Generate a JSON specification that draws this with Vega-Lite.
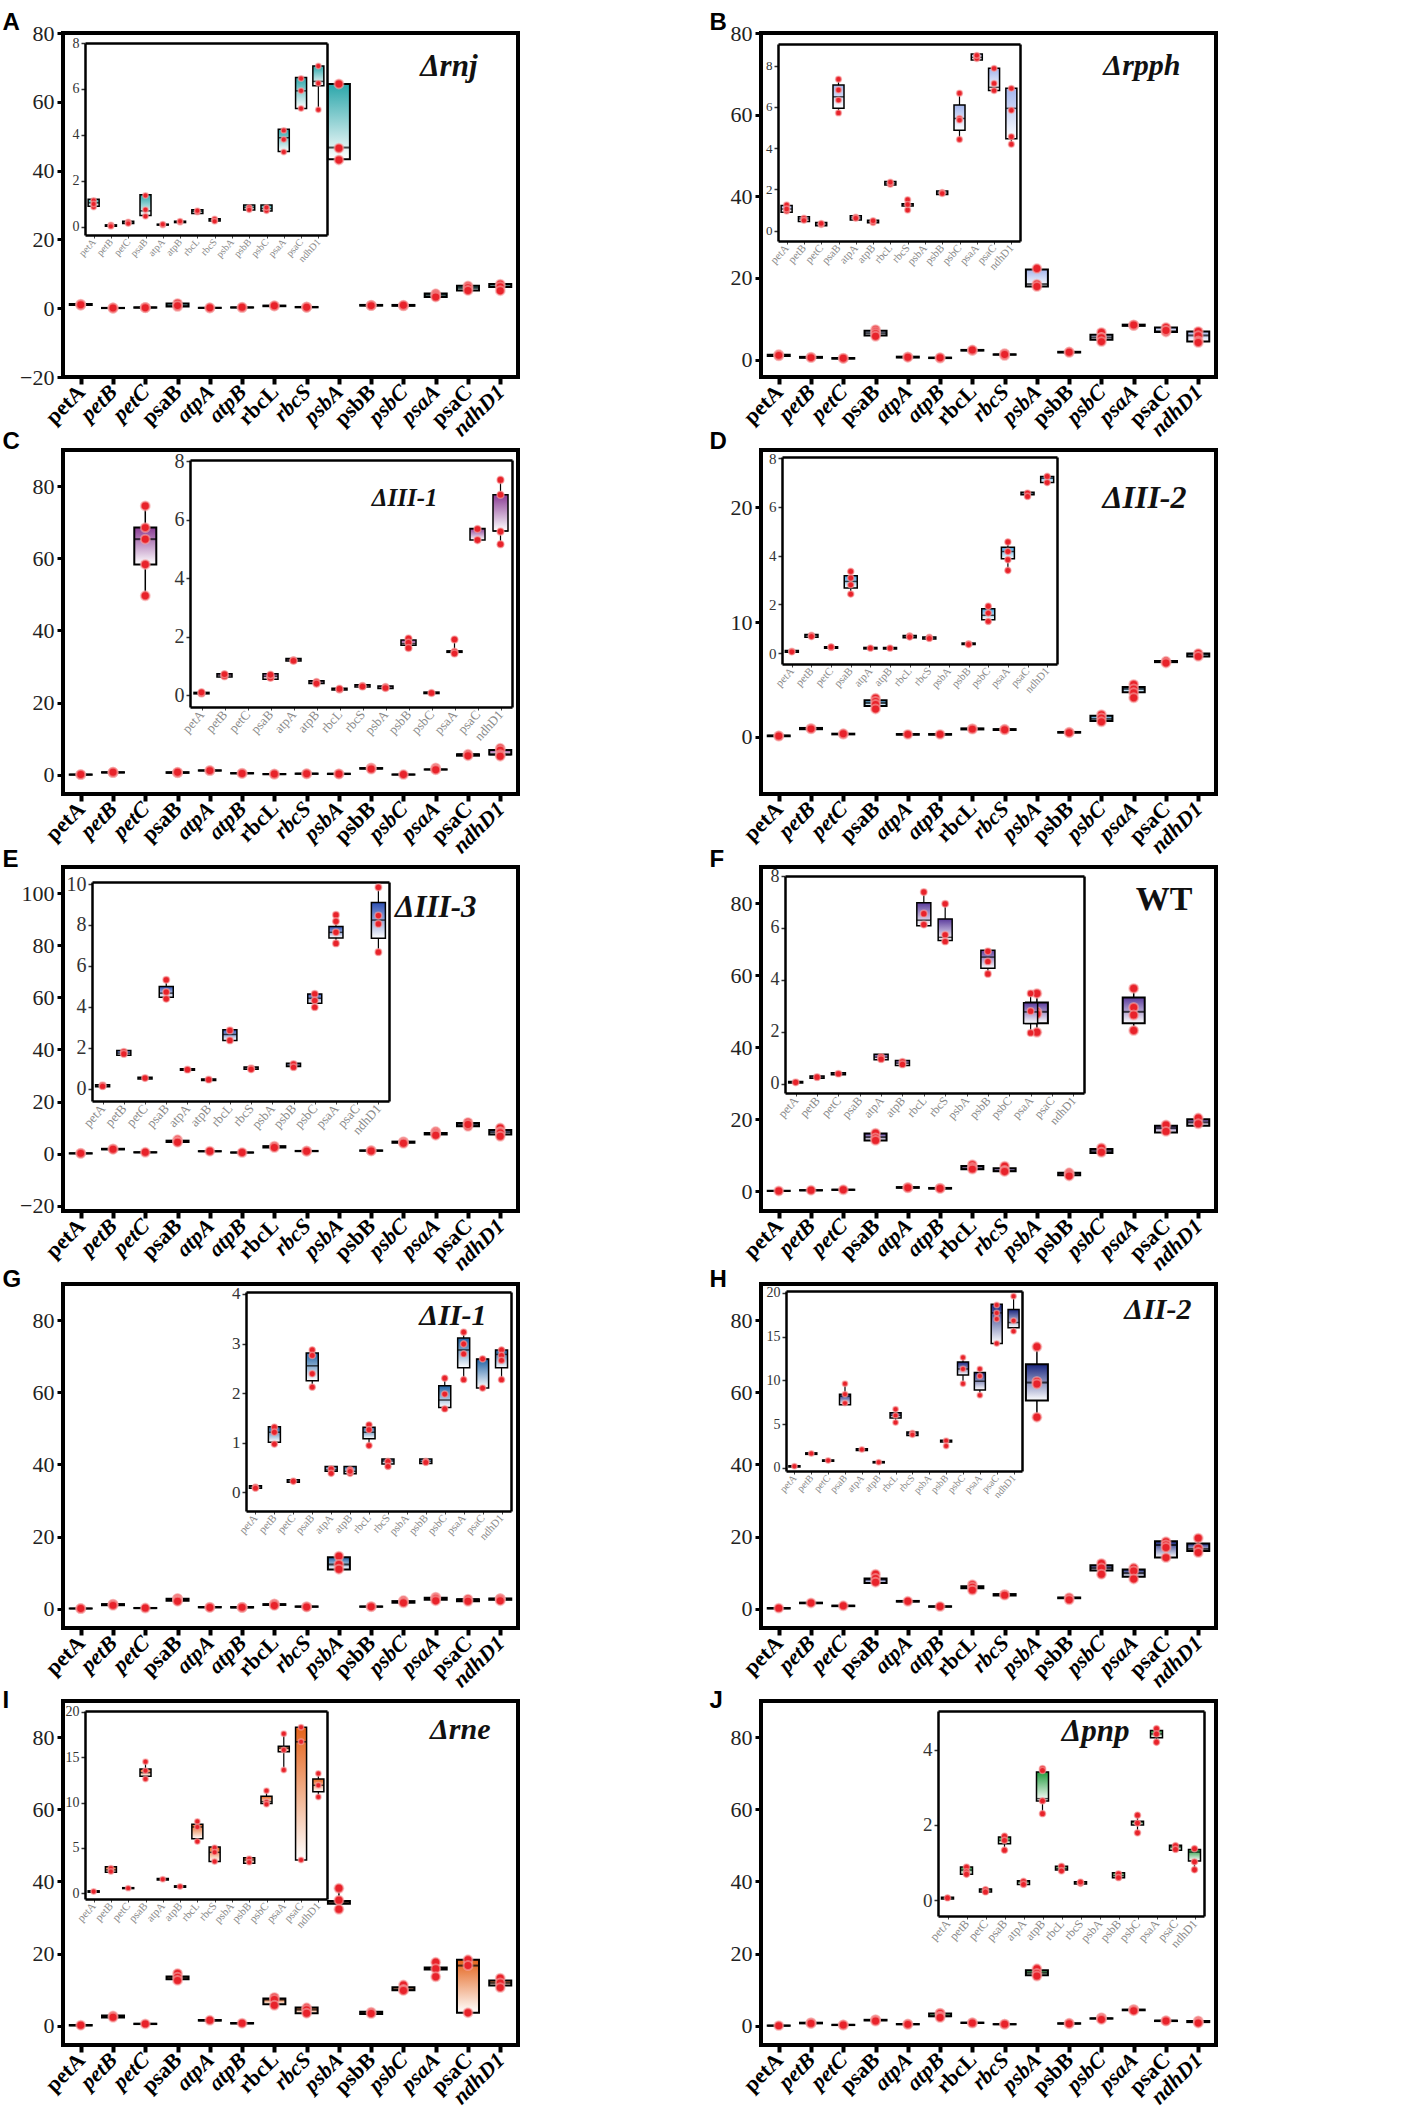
{
"$schema":"https://vega.github.io/schema/vega-lite/v6.json",
"background":"white",
"padding":{"left":0,"top":8,"right":0,"bottom":0},
"bounds":"flush",
"columns":2,
"spacing":{"row":73,"column":243},
"config":{
 "view":{"stroke":"black","strokeWidth":4},
 "axis":{"grid":false},
 "style":{
  "mx":{"domain":false,"tickSize":7,"tickWidth":4,"tickColor":"black","labelAngle":-45,"labelAlign":"right","labelBaseline":"middle","labelFont":"Liberation Serif","labelFontSize":22,"labelFontWeight":"bold","labelColor":"black","labelPadding":4},
  "my":{"domain":false,"tickSize":6,"tickWidth":3,"tickColor":"black","labelFont":"Liberation Serif","labelFontSize":22,"labelColor":"#222","labelPadding":3,"titleAngle":0,"titleAlign":"left","titleBaseline":"top","titleFont":"Liberation Sans","titleFontSize":24,"titleFontWeight":"bold","titleColor":"black"},
  "ix":{"domainColor":"black","domainWidth":2.5,"tickSize":3,"tickColor":"#444","tickWidth":1,"labelAngle":-48,"labelAlign":"right","labelBaseline":"middle","labelFont":"Liberation Serif","labelColor":"#8a8a8a","labelPadding":2},
  "iy":{"domainColor":"black","domainWidth":2.5,"tickSize":4,"tickColor":"#333","tickWidth":1.5,"labelFont":"Liberation Serif","labelColor":"#333","labelPadding":2},
  "fr":{"labels":false,"ticks":false,"domainColor":"black","domainWidth":2.5,"titleAngle":0,"titleAlign":"right","titleBaseline":"alphabetic","titleFont":"Liberation Serif","titleFontWeight":"bold","titleFontStyle":"italic","titleColor":"#111"}
 }
},
"datasets":{
"box":[
{"p":"A","g":"petA","lo":0.85,"q1":0.9,"md":1.05,"q3":1.2,"hi":1.22,"s":"b"},
{"p":"A","g":"petB","lo":0.02,"q1":0.03,"md":0.06,"q3":0.09,"hi":0.1,"s":"b"},
{"p":"A","g":"petC","lo":0.14,"q1":0.15,"md":0.2,"q3":0.25,"hi":0.26,"s":"b"},
{"p":"A","g":"psaB","lo":0.47,"q1":0.5,"md":0.7,"q3":1.4,"hi":1.4,"s":"b"},
{"p":"A","g":"atpA","lo":0.07,"q1":0.08,"md":0.1,"q3":0.12,"hi":0.13,"s":"b"},
{"p":"A","g":"atpB","lo":0.18,"q1":0.19,"md":0.22,"q3":0.25,"hi":0.26,"s":"b"},
{"p":"A","g":"rbcL","lo":0.57,"q1":0.58,"md":0.68,"q3":0.75,"hi":0.76,"s":"b"},
{"p":"A","g":"rbcS","lo":0.24,"q1":0.26,"md":0.32,"q3":0.36,"hi":0.37,"s":"b"},
{"p":"A","g":"psbA","lo":43.1,"q1":43.3,"md":46.7,"q3":65.2,"hi":65.5,"s":"m"},
{"p":"A","g":"psbB","lo":0.73,"q1":0.74,"md":0.85,"q3":0.95,"hi":0.95,"s":"b"},
{"p":"A","g":"psbC","lo":0.68,"q1":0.69,"md":0.8,"q3":0.95,"hi":0.95,"s":"b"},
{"p":"A","g":"psaA","lo":3.26,"q1":3.28,"md":3.88,"q3":4.25,"hi":4.28,"s":"b"},
{"p":"A","g":"psaC","lo":5.15,"q1":5.15,"md":5.92,"q3":6.5,"hi":6.5,"s":"b"},
{"p":"A","g":"ndhD1","lo":5.09,"q1":6.14,"md":6.33,"q3":7.0,"hi":7.0,"s":"b"},
{"p":"B","g":"petA","lo":0.89,"q1":0.89,"md":1.05,"q3":1.22,"hi":1.27,"s":"b"},
{"p":"B","g":"petB","lo":0.45,"q1":0.45,"md":0.57,"q3":0.68,"hi":0.68,"s":"b"},
{"p":"B","g":"petC","lo":0.24,"q1":0.24,"md":0.32,"q3":0.4,"hi":0.4,"s":"b"},
{"p":"B","g":"psaB","lo":5.71,"q1":5.93,"md":6.49,"q3":7.06,"hi":7.34,"s":"b"},
{"p":"B","g":"atpA","lo":0.52,"q1":0.52,"md":0.62,"q3":0.73,"hi":0.73,"s":"b"},
{"p":"B","g":"atpB","lo":0.38,"q1":0.38,"md":0.44,"q3":0.5,"hi":0.5,"s":"b"},
{"p":"B","g":"rbcL","lo":2.22,"q1":2.22,"md":2.3,"q3":2.38,"hi":2.38,"s":"b"},
{"p":"B","g":"rbcS","lo":0.97,"q1":1.2,"md":1.27,"q3":1.3,"hi":1.54,"s":"b"},
{"p":"B","g":"psbA","lo":17.9,"q1":17.9,"md":18.5,"q3":22.1,"hi":22.3,"s":"m"},
{"p":"B","g":"psbB","lo":1.75,"q1":1.75,"md":1.83,"q3":1.92,"hi":1.92,"s":"b"},
{"p":"B","g":"psbC","lo":4.38,"q1":4.87,"md":5.44,"q3":6.09,"hi":6.66,"s":"b"},
{"p":"B","g":"psaA","lo":8.28,"q1":8.28,"md":8.4,"q3":8.57,"hi":8.57,"s":"b"},
{"p":"B","g":"psaC","lo":6.79,"q1":6.79,"md":6.95,"q3":7.87,"hi":7.87,"s":"b"},
{"p":"B","g":"ndhD1","lo":4.19,"q1":4.46,"md":5.93,"q3":6.9,"hi":6.9,"s":"b"},
{"p":"C","g":"petA","lo":0.05,"q1":0.05,"md":0.08,"q3":0.1,"hi":0.1,"s":"b"},
{"p":"C","g":"petB","lo":0.63,"q1":0.63,"md":0.69,"q3":0.74,"hi":0.74,"s":"b"},
{"p":"C","g":"petC","lo":49.6,"q1":58.3,"md":65.3,"q3":68.5,"hi":74.5,"s":"m"},
{"p":"C","g":"psaB","lo":0.55,"q1":0.55,"md":0.65,"q3":0.74,"hi":0.74,"s":"b"},
{"p":"C","g":"atpA","lo":1.17,"q1":1.17,"md":1.22,"q3":1.26,"hi":1.26,"s":"b"},
{"p":"C","g":"atpB","lo":0.4,"q1":0.4,"md":0.46,"q3":0.5,"hi":0.5,"s":"b"},
{"p":"C","g":"rbcL","lo":0.18,"q1":0.18,"md":0.21,"q3":0.24,"hi":0.24,"s":"b"},
{"p":"C","g":"rbcS","lo":0.28,"q1":0.28,"md":0.34,"q3":0.36,"hi":0.36,"s":"b"},
{"p":"C","g":"psbA","lo":0.23,"q1":0.23,"md":0.29,"q3":0.32,"hi":0.32,"s":"b"},
{"p":"C","g":"psbB","lo":1.62,"q1":1.71,"md":1.77,"q3":1.89,"hi":1.94,"s":"b"},
{"p":"C","g":"psbC","lo":0.06,"q1":0.06,"md":0.09,"q3":0.11,"hi":0.11,"s":"b"},
{"p":"C","g":"psaA","lo":1.43,"q1":1.47,"md":1.51,"q3":1.52,"hi":1.91,"s":"b"},
{"p":"C","g":"psaC","lo":5.31,"q1":5.31,"md":5.69,"q3":5.71,"hi":5.71,"s":"b"},
{"p":"C","g":"ndhD1","lo":5.17,"q1":5.62,"md":5.62,"q3":6.86,"hi":7.37,"s":"b"},
{"p":"D","g":"petA","lo":0.03,"q1":0.03,"md":0.07,"q3":0.1,"hi":0.1,"s":"b"},
{"p":"D","g":"petB","lo":0.65,"q1":0.65,"md":0.71,"q3":0.76,"hi":0.76,"s":"b"},
{"p":"D","g":"petC","lo":0.2,"q1":0.2,"md":0.23,"q3":0.26,"hi":0.26,"s":"b"},
{"p":"D","g":"psaB","lo":2.42,"q1":2.67,"md":2.94,"q3":3.17,"hi":3.35,"s":"b"},
{"p":"D","g":"atpA","lo":0.17,"q1":0.17,"md":0.2,"q3":0.23,"hi":0.23,"s":"b"},
{"p":"D","g":"atpB","lo":0.17,"q1":0.17,"md":0.2,"q3":0.23,"hi":0.23,"s":"b"},
{"p":"D","g":"rbcL","lo":0.63,"q1":0.63,"md":0.68,"q3":0.72,"hi":0.72,"s":"b"},
{"p":"D","g":"rbcS","lo":0.58,"q1":0.58,"md":0.62,"q3":0.66,"hi":0.66,"s":"b"},
{"p":"D","g":"psbB","lo":0.35,"q1":0.35,"md":0.38,"q3":0.41,"hi":0.41,"s":"b"},
{"p":"D","g":"psbC","lo":1.3,"q1":1.37,"md":1.55,"q3":1.82,"hi":1.92,"s":"b"},
{"p":"D","g":"psaA","lo":3.39,"q1":3.87,"md":4.17,"q3":4.34,"hi":4.58,"s":"b"},
{"p":"D","g":"psaC","lo":6.5,"q1":6.5,"md":6.57,"q3":6.6,"hi":6.6,"s":"b"},
{"p":"D","g":"ndhD1","lo":7.0,"q1":7.0,"md":7.18,"q3":7.25,"hi":7.25,"s":"b"},
{"p":"E","g":"petA","lo":0.1,"q1":0.1,"md":0.16,"q3":0.2,"hi":0.2,"s":"b"},
{"p":"E","g":"petB","lo":1.63,"q1":1.63,"md":1.74,"q3":1.87,"hi":1.87,"s":"b"},
{"p":"E","g":"petC","lo":0.48,"q1":0.48,"md":0.52,"q3":0.56,"hi":0.56,"s":"b"},
{"p":"E","g":"psaB","lo":4.39,"q1":4.47,"md":4.67,"q3":4.99,"hi":5.32,"s":"b"},
{"p":"E","g":"atpA","lo":0.9,"q1":0.9,"md":0.93,"q3":0.97,"hi":0.97,"s":"b"},
{"p":"E","g":"atpB","lo":0.4,"q1":0.4,"md":0.44,"q3":0.48,"hi":0.48,"s":"b"},
{"p":"E","g":"rbcL","lo":2.36,"q1":2.36,"md":2.65,"q3":2.88,"hi":2.88,"s":"b"},
{"p":"E","g":"rbcS","lo":0.95,"q1":0.95,"md":1.02,"q3":1.06,"hi":1.06,"s":"b"},
{"p":"E","g":"psbB","lo":1.05,"q1":1.09,"md":1.15,"q3":1.25,"hi":1.25,"s":"b"},
{"p":"E","g":"psbC","lo":3.98,"q1":4.18,"md":4.42,"q3":4.63,"hi":4.63,"s":"b"},
{"p":"E","g":"psaA","lo":7.07,"q1":7.37,"md":7.64,"q3":7.92,"hi":8.49,"s":"b"},
{"p":"E","g":"psaC","lo":10.5,"q1":10.5,"md":11.0,"q3":11.8,"hi":11.8,"s":"m"},
{"p":"E","g":"ndhD1","lo":6.67,"q1":7.35,"md":8.24,"q3":9.1,"hi":9.84,"s":"b"},
{"p":"F","g":"petA","lo":0.03,"q1":0.03,"md":0.06,"q3":0.09,"hi":0.09,"s":"b"},
{"p":"F","g":"petB","lo":0.22,"q1":0.22,"md":0.26,"q3":0.3,"hi":0.3,"s":"b"},
{"p":"F","g":"petC","lo":0.35,"q1":0.35,"md":0.39,"q3":0.43,"hi":0.43,"s":"b"},
{"p":"F","g":"psaB","lo":14.1,"q1":14.1,"md":15.0,"q3":16.0,"hi":16.1,"s":"m"},
{"p":"F","g":"atpA","lo":0.93,"q1":0.93,"md":1.03,"q3":1.14,"hi":1.14,"s":"b"},
{"p":"F","g":"atpB","lo":0.71,"q1":0.71,"md":0.8,"q3":0.9,"hi":0.9,"s":"b"},
{"p":"F","g":"rbcL","lo":6.09,"q1":6.09,"md":6.3,"q3":6.97,"hi":7.42,"s":"b"},
{"p":"F","g":"rbcS","lo":5.45,"q1":5.52,"md":5.64,"q3":6.35,"hi":6.93,"s":"b"},
{"p":"F","g":"psbA","lo":44.1,"q1":46.6,"md":49.8,"q3":52.4,"hi":54.9,"s":"m"},
{"p":"F","g":"psbB","lo":4.19,"q1":4.45,"md":4.88,"q3":5.14,"hi":5.14,"s":"b"},
{"p":"F","g":"psbC","lo":10.6,"q1":10.6,"md":11.1,"q3":11.7,"hi":12.0,"s":"m"},
{"p":"F","g":"psaA","lo":44.6,"q1":46.6,"md":49.8,"q3":53.8,"hi":56.3,"s":"m"},
{"p":"F","g":"psaA","lo":1.96,"q1":2.32,"md":2.77,"q3":3.12,"hi":3.48,"s":"i"},
{"p":"F","g":"psaC","lo":16.3,"q1":16.3,"md":17.5,"q3":18.2,"hi":18.4,"s":"m"},
{"p":"F","g":"ndhD1","lo":18.2,"q1":18.2,"md":19.1,"q3":20.0,"hi":20.3,"s":"m"},
{"p":"G","g":"petA","lo":0.08,"q1":0.08,"md":0.11,"q3":0.13,"hi":0.13,"s":"b"},
{"p":"G","g":"petB","lo":0.97,"q1":1.01,"md":1.21,"q3":1.32,"hi":1.32,"s":"b"},
{"p":"G","g":"petC","lo":0.2,"q1":0.2,"md":0.22,"q3":0.25,"hi":0.25,"s":"b"},
{"p":"G","g":"psaB","lo":2.12,"q1":2.25,"md":2.55,"q3":2.81,"hi":2.89,"s":"b"},
{"p":"G","g":"atpA","lo":0.38,"q1":0.42,"md":0.45,"q3":0.52,"hi":0.52,"s":"b"},
{"p":"G","g":"atpB","lo":0.35,"q1":0.37,"md":0.42,"q3":0.52,"hi":0.52,"s":"b"},
{"p":"G","g":"rbcL","lo":0.94,"q1":1.08,"md":1.21,"q3":1.31,"hi":1.38,"s":"b"},
{"p":"G","g":"rbcS","lo":0.52,"q1":0.57,"md":0.63,"q3":0.67,"hi":0.67,"s":"b"},
{"p":"G","g":"psbA","lo":10.9,"q1":10.9,"md":12.3,"q3":14.3,"hi":14.6,"s":"m"},
{"p":"G","g":"psbB","lo":0.58,"q1":0.58,"md":0.62,"q3":0.67,"hi":0.67,"s":"b"},
{"p":"G","g":"psbC","lo":1.67,"q1":1.71,"md":1.86,"q3":2.15,"hi":2.32,"s":"b"},
{"p":"G","g":"psaA","lo":2.27,"q1":2.51,"md":2.87,"q3":3.11,"hi":3.26,"s":"b"},
{"p":"G","g":"psaC","lo":2.1,"q1":2.1,"md":2.68,"q3":2.69,"hi":2.69,"s":"b"},
{"p":"G","g":"ndhD1","lo":2.27,"q1":2.51,"md":2.78,"q3":2.87,"hi":2.87,"s":"b"},
{"p":"H","g":"petA","lo":0.1,"q1":0.1,"md":0.2,"q3":0.25,"hi":0.25,"s":"b"},
{"p":"H","g":"petB","lo":1.55,"q1":1.55,"md":1.64,"q3":1.72,"hi":1.72,"s":"b"},
{"p":"H","g":"petC","lo":0.75,"q1":0.75,"md":0.84,"q3":0.9,"hi":0.9,"s":"b"},
{"p":"H","g":"psaB","lo":7.2,"q1":7.2,"md":8.2,"q3":8.4,"hi":9.7,"s":"b"},
{"p":"H","g":"atpA","lo":2.0,"q1":2.0,"md":2.1,"q3":2.2,"hi":2.2,"s":"b"},
{"p":"H","g":"atpB","lo":0.58,"q1":0.58,"md":0.65,"q3":0.72,"hi":0.72,"s":"b"},
{"p":"H","g":"rbcL","lo":5.2,"q1":5.7,"md":6.0,"q3":6.3,"hi":6.7,"s":"b"},
{"p":"H","g":"rbcS","lo":3.7,"q1":3.7,"md":3.9,"q3":4.1,"hi":4.1,"s":"b"},
{"p":"H","g":"psbA","lo":53.1,"q1":57.7,"md":62.7,"q3":67.8,"hi":72.6,"s":"m"},
{"p":"H","g":"psbB","lo":2.5,"q1":2.95,"md":3.05,"q3":3.15,"hi":3.15,"s":"b"},
{"p":"H","g":"psbC","lo":9.6,"q1":10.6,"md":11.3,"q3":12.1,"hi":12.6,"s":"b"},
{"p":"H","g":"psaA","lo":8.3,"q1":8.9,"md":9.9,"q3":10.9,"hi":11.4,"s":"b"},
{"p":"H","g":"psaC","lo":14.2,"q1":14.2,"md":17.7,"q3":18.7,"hi":18.7,"s":"b"},
{"p":"H","g":"ndhD1","lo":15.5,"q1":16.0,"md":16.6,"q3":18.1,"hi":19.6,"s":"b"},
{"p":"I","g":"petA","lo":0.1,"q1":0.1,"md":0.18,"q3":0.25,"hi":0.25,"s":"b"},
{"p":"I","g":"petB","lo":2.3,"q1":2.3,"md":2.56,"q3":2.9,"hi":2.9,"s":"b"},
{"p":"I","g":"petC","lo":0.5,"q1":0.5,"md":0.55,"q3":0.6,"hi":0.6,"s":"b"},
{"p":"I","g":"psaB","lo":12.4,"q1":12.9,"md":13.3,"q3":13.7,"hi":14.5,"s":"b"},
{"p":"I","g":"atpA","lo":1.45,"q1":1.45,"md":1.54,"q3":1.62,"hi":1.62,"s":"b"},
{"p":"I","g":"atpB","lo":0.65,"q1":0.65,"md":0.73,"q3":0.8,"hi":0.8,"s":"b"},
{"p":"I","g":"rbcL","lo":5.7,"q1":6.0,"md":7.3,"q3":7.6,"hi":7.9,"s":"b"},
{"p":"I","g":"rbcS","lo":3.5,"q1":3.5,"md":4.5,"q3":5.1,"hi":5.1,"s":"b"},
{"p":"I","g":"psbA","lo":32.3,"q1":33.8,"md":34.3,"q3":34.6,"hi":38.1,"s":"m"},
{"p":"I","g":"psbB","lo":3.3,"q1":3.3,"md":3.66,"q3":3.9,"hi":3.9,"s":"b"},
{"p":"I","g":"psbC","lo":9.8,"q1":9.9,"md":10.1,"q3":10.7,"hi":11.3,"s":"b"},
{"p":"I","g":"psaA","lo":13.6,"q1":15.6,"md":16.0,"q3":16.2,"hi":17.6,"s":"b"},
{"p":"I","g":"psaC","lo":3.66,"q1":3.66,"md":16.7,"q3":18.3,"hi":18.3,"s":"b"},
{"p":"I","g":"ndhD1","lo":10.5,"q1":11.2,"md":11.9,"q3":12.6,"hi":13.3,"s":"b"},
{"p":"J","g":"petA","lo":0.03,"q1":0.03,"md":0.06,"q3":0.08,"hi":0.08,"s":"b"},
{"p":"J","g":"petB","lo":0.69,"q1":0.69,"md":0.8,"q3":0.88,"hi":0.88,"s":"b"},
{"p":"J","g":"petC","lo":0.22,"q1":0.22,"md":0.27,"q3":0.3,"hi":0.3,"s":"b"},
{"p":"J","g":"psaB","lo":1.33,"q1":1.5,"md":1.59,"q3":1.68,"hi":1.7,"s":"b"},
{"p":"J","g":"atpA","lo":0.42,"q1":0.42,"md":0.49,"q3":0.52,"hi":0.52,"s":"b"},
{"p":"J","g":"atpB","lo":2.3,"q1":2.64,"md":2.7,"q3":3.41,"hi":3.5,"s":"b"},
{"p":"J","g":"rbcL","lo":0.78,"q1":0.8,"md":0.84,"q3":0.9,"hi":0.9,"s":"b"},
{"p":"J","g":"rbcS","lo":0.43,"q1":0.43,"md":0.46,"q3":0.49,"hi":0.49,"s":"b"},
{"p":"J","g":"psbA","lo":13.8,"q1":14.0,"md":14.7,"q3":15.4,"hi":15.8,"s":"m"},
{"p":"J","g":"psbB","lo":0.6,"q1":0.6,"md":0.65,"q3":0.73,"hi":0.73,"s":"b"},
{"p":"J","g":"psbC","lo":1.79,"q1":2.0,"md":2.08,"q3":2.1,"hi":2.26,"s":"b"},
{"p":"J","g":"psaA","lo":4.2,"q1":4.32,"md":4.42,"q3":4.51,"hi":4.56,"s":"b"},
{"p":"J","g":"psaC","lo":1.33,"q1":1.33,"md":1.42,"q3":1.46,"hi":1.46,"s":"b"},
{"p":"J","g":"ndhD1","lo":0.81,"q1":1.04,"md":1.28,"q3":1.35,"hi":1.37,"s":"b"}
],
"pts":[
{"p":"A","g":"petA","v":1.15,"s":"b"},{"p":"A","g":"petA","v":0.87,"s":"b"},{"p":"A","g":"petA","v":1.0,"s":"b"},
{"p":"A","g":"petB","v":0.05,"s":"b"},{"p":"A","g":"petB","v":0.08,"s":"b"},{"p":"A","g":"petB","v":0.03,"s":"b"},
{"p":"A","g":"petC","v":0.18,"s":"b"},{"p":"A","g":"petC","v":0.22,"s":"b"},{"p":"A","g":"petC","v":0.15,"s":"b"},
{"p":"A","g":"psaB","v":1.37,"s":"b"},{"p":"A","g":"psaB","v":0.47,"s":"b"},{"p":"A","g":"psaB","v":0.75,"s":"b"},
{"p":"A","g":"atpA","v":0.08,"s":"b"},{"p":"A","g":"atpA","v":0.12,"s":"b"},
{"p":"A","g":"atpB","v":0.2,"s":"b"},{"p":"A","g":"atpB","v":0.25,"s":"b"},
{"p":"A","g":"rbcL","v":0.65,"s":"b"},{"p":"A","g":"rbcL","v":0.7,"s":"b"},
{"p":"A","g":"rbcS","v":0.3,"s":"b"},{"p":"A","g":"rbcS","v":0.35,"s":"b"},{"p":"A","g":"rbcS","v":0.25,"s":"b"},
{"p":"A","g":"psbA","v":65.2,"s":"m"},{"p":"A","g":"psbA","v":46.5,"s":"m"},{"p":"A","g":"psbA","v":43.1,"s":"m"},
{"p":"A","g":"psbB","v":0.8,"s":"b"},{"p":"A","g":"psbB","v":0.85,"s":"b"},{"p":"A","g":"psbB","v":0.75,"s":"b"},
{"p":"A","g":"psbC","v":0.75,"s":"b"},{"p":"A","g":"psbC","v":0.7,"s":"b"},{"p":"A","g":"psbC","v":0.85,"s":"b"},
{"p":"A","g":"psaA","v":4.2,"s":"b"},{"p":"A","g":"psaA","v":3.8,"s":"b"},{"p":"A","g":"psaA","v":3.26,"s":"b"},
{"p":"A","g":"psaC","v":6.46,"s":"b"},{"p":"A","g":"psaC","v":5.92,"s":"b"},{"p":"A","g":"psaC","v":5.15,"s":"b"},
{"p":"A","g":"ndhD1","v":7.0,"s":"b"},{"p":"A","g":"ndhD1","v":6.25,"s":"b"},{"p":"A","g":"ndhD1","v":5.1,"s":"b"},
{"p":"B","g":"petA","v":1.25,"s":"b"},{"p":"B","g":"petA","v":0.95,"s":"b"},{"p":"B","g":"petA","v":1.05,"s":"b"},
{"p":"B","g":"petB","v":0.6,"s":"b"},{"p":"B","g":"petB","v":0.5,"s":"b"},
{"p":"B","g":"petC","v":0.3,"s":"b"},{"p":"B","g":"petC","v":0.35,"s":"b"},
{"p":"B","g":"psaB","v":7.34,"s":"b"},{"p":"B","g":"psaB","v":6.82,"s":"b"},{"p":"B","g":"psaB","v":6.33,"s":"b"},{"p":"B","g":"psaB","v":5.71,"s":"b"},
{"p":"B","g":"atpA","v":0.65,"s":"b"},{"p":"B","g":"atpA","v":0.6,"s":"b"},
{"p":"B","g":"atpB","v":0.4,"s":"b"},{"p":"B","g":"atpB","v":0.48,"s":"b"},
{"p":"B","g":"rbcL","v":2.25,"s":"b"},{"p":"B","g":"rbcL","v":2.35,"s":"b"},
{"p":"B","g":"rbcS","v":1.5,"s":"b"},{"p":"B","g":"rbcS","v":1.0,"s":"b"},{"p":"B","g":"rbcS","v":1.27,"s":"b"},
{"p":"B","g":"psbA","v":22.3,"s":"m"},{"p":"B","g":"psbA","v":18.5,"s":"m"},{"p":"B","g":"psbA","v":17.9,"s":"m"},
{"p":"B","g":"psbB","v":1.85,"s":"b"},{"p":"B","g":"psbB","v":1.8,"s":"b"},
{"p":"B","g":"psbC","v":6.66,"s":"b"},{"p":"B","g":"psbC","v":5.44,"s":"b"},{"p":"B","g":"psbC","v":5.36,"s":"b"},{"p":"B","g":"psbC","v":4.42,"s":"b"},
{"p":"B","g":"psaA","v":8.45,"s":"b"},{"p":"B","g":"psaA","v":8.35,"s":"b"},{"p":"B","g":"psaA","v":8.5,"s":"b"},
{"p":"B","g":"psaC","v":7.87,"s":"b"},{"p":"B","g":"psaC","v":6.79,"s":"b"},{"p":"B","g":"psaC","v":7.14,"s":"b"},
{"p":"B","g":"ndhD1","v":6.9,"s":"b"},{"p":"B","g":"ndhD1","v":5.84,"s":"b"},{"p":"B","g":"ndhD1","v":4.55,"s":"b"},{"p":"B","g":"ndhD1","v":4.19,"s":"b"},
{"p":"C","g":"petA","v":0.06,"s":"b"},{"p":"C","g":"petA","v":0.1,"s":"b"},
{"p":"C","g":"petB","v":0.7,"s":"b"},{"p":"C","g":"petB","v":0.65,"s":"b"},{"p":"C","g":"petB","v":0.72,"s":"b"},
{"p":"C","g":"petC","v":74.5,"s":"m"},{"p":"C","g":"petC","v":68.5,"s":"m"},{"p":"C","g":"petC","v":65.3,"s":"m"},{"p":"C","g":"petC","v":58.3,"s":"m"},{"p":"C","g":"petC","v":49.6,"s":"m"},
{"p":"C","g":"psaB","v":0.62,"s":"b"},{"p":"C","g":"psaB","v":0.6,"s":"b"},{"p":"C","g":"psaB","v":0.7,"s":"b"},
{"p":"C","g":"atpA","v":1.2,"s":"b"},{"p":"C","g":"atpA","v":1.18,"s":"b"},
{"p":"C","g":"atpB","v":0.45,"s":"b"},{"p":"C","g":"atpB","v":0.4,"s":"b"},
{"p":"C","g":"rbcL","v":0.2,"s":"b"},{"p":"C","g":"rbcL","v":0.22,"s":"b"},
{"p":"C","g":"rbcS","v":0.32,"s":"b"},{"p":"C","g":"rbcS","v":0.3,"s":"b"},
{"p":"C","g":"psbA","v":0.28,"s":"b"},{"p":"C","g":"psbA","v":0.25,"s":"b"},
{"p":"C","g":"psbB","v":1.94,"s":"b"},{"p":"C","g":"psbB","v":1.8,"s":"b"},{"p":"C","g":"psbB","v":1.62,"s":"b"},
{"p":"C","g":"psbC","v":0.08,"s":"b"},
{"p":"C","g":"psaA","v":1.91,"s":"b"},{"p":"C","g":"psaA","v":1.49,"s":"b"},{"p":"C","g":"psaA","v":1.43,"s":"b"},
{"p":"C","g":"psaC","v":5.69,"s":"b"},{"p":"C","g":"psaC","v":5.31,"s":"b"},
{"p":"C","g":"ndhD1","v":7.37,"s":"b"},{"p":"C","g":"ndhD1","v":6.86,"s":"b"},{"p":"C","g":"ndhD1","v":5.6,"s":"b"},{"p":"C","g":"ndhD1","v":5.17,"s":"b"},
{"p":"D","g":"petA","v":0.07,"s":"b"},{"p":"D","g":"petA","v":0.05,"s":"b"},
{"p":"D","g":"petB","v":0.72,"s":"b"},{"p":"D","g":"petB","v":0.68,"s":"b"},
{"p":"D","g":"petC","v":0.23,"s":"b"},{"p":"D","g":"petC","v":0.25,"s":"b"},
{"p":"D","g":"psaB","v":3.35,"s":"b"},{"p":"D","g":"psaB","v":3.08,"s":"b"},{"p":"D","g":"psaB","v":2.8,"s":"b"},{"p":"D","g":"psaB","v":2.42,"s":"b"},
{"p":"D","g":"atpA","v":0.2,"s":"b"},
{"p":"D","g":"atpB","v":0.2,"s":"b"},
{"p":"D","g":"rbcL","v":0.7,"s":"b"},{"p":"D","g":"rbcL","v":0.66,"s":"b"},
{"p":"D","g":"rbcS","v":0.64,"s":"b"},{"p":"D","g":"rbcS","v":0.6,"s":"b"},
{"p":"D","g":"psbB","v":0.38,"s":"b"},{"p":"D","g":"psbB","v":0.35,"s":"b"},
{"p":"D","g":"psbC","v":1.92,"s":"b"},{"p":"D","g":"psbC","v":1.64,"s":"b"},{"p":"D","g":"psbC","v":1.3,"s":"b"},
{"p":"D","g":"psaA","v":4.56,"s":"b"},{"p":"D","g":"psaA","v":4.17,"s":"b"},{"p":"D","g":"psaA","v":3.83,"s":"b"},{"p":"D","g":"psaA","v":3.39,"s":"b"},
{"p":"D","g":"psaC","v":6.57,"s":"b"},{"p":"D","g":"psaC","v":6.43,"s":"b"},
{"p":"D","g":"ndhD1","v":7.25,"s":"b"},{"p":"D","g":"ndhD1","v":7.0,"s":"b"},
{"p":"E","g":"petA","v":0.16,"s":"b"},{"p":"E","g":"petA","v":0.12,"s":"b"},
{"p":"E","g":"petB","v":1.8,"s":"b"},{"p":"E","g":"petB","v":1.7,"s":"b"},
{"p":"E","g":"petC","v":0.52,"s":"b"},
{"p":"E","g":"psaB","v":5.32,"s":"b"},{"p":"E","g":"psaB","v":4.72,"s":"b"},{"p":"E","g":"psaB","v":4.39,"s":"b"},
{"p":"E","g":"atpA","v":0.93,"s":"b"},
{"p":"E","g":"atpB","v":0.44,"s":"b"},
{"p":"E","g":"rbcL","v":2.85,"s":"b"},{"p":"E","g":"rbcL","v":2.36,"s":"b"},
{"p":"E","g":"rbcS","v":1.0,"s":"b"},{"p":"E","g":"rbcS","v":0.95,"s":"b"},
{"p":"E","g":"psbB","v":1.2,"s":"b"},{"p":"E","g":"psbB","v":1.05,"s":"b"},
{"p":"E","g":"psbC","v":4.63,"s":"b"},{"p":"E","g":"psbC","v":4.31,"s":"b"},{"p":"E","g":"psbC","v":3.98,"s":"b"},
{"p":"E","g":"psaA","v":8.49,"s":"b"},{"p":"E","g":"psaA","v":8.18,"s":"b"},{"p":"E","g":"psaA","v":7.64,"s":"b"},{"p":"E","g":"psaA","v":7.1,"s":"b"},
{"p":"E","g":"psaC","v":12.0,"s":"m"},{"p":"E","g":"psaC","v":10.5,"s":"m"},{"p":"E","g":"psaC","v":11.2,"s":"m"},
{"p":"E","g":"ndhD1","v":9.84,"s":"b"},{"p":"E","g":"ndhD1","v":8.46,"s":"b"},{"p":"E","g":"ndhD1","v":8.05,"s":"b"},{"p":"E","g":"ndhD1","v":6.67,"s":"b"},
{"p":"F","g":"petA","v":0.06,"s":"b"},
{"p":"F","g":"petB","v":0.26,"s":"b"},
{"p":"F","g":"petC","v":0.39,"s":"b"},
{"p":"F","g":"psaB","v":16.1,"s":"m"},{"p":"F","g":"psaB","v":14.8,"s":"m"},{"p":"F","g":"psaB","v":14.1,"s":"m"},
{"p":"F","g":"atpA","v":1.03,"s":"b"},{"p":"F","g":"atpA","v":0.95,"s":"b"},
{"p":"F","g":"atpB","v":0.85,"s":"b"},{"p":"F","g":"atpB","v":0.75,"s":"b"},
{"p":"F","g":"rbcL","v":7.38,"s":"b"},{"p":"F","g":"rbcL","v":6.55,"s":"b"},{"p":"F","g":"rbcL","v":6.13,"s":"b"},
{"p":"F","g":"rbcS","v":6.93,"s":"b"},{"p":"F","g":"rbcS","v":5.74,"s":"b"},{"p":"F","g":"rbcS","v":5.48,"s":"b"},
{"p":"F","g":"psbA","v":54.9,"s":"m"},{"p":"F","g":"psbA","v":49.8,"s":"m"},{"p":"F","g":"psbA","v":49.2,"s":"m"},{"p":"F","g":"psbA","v":44.1,"s":"m"},
{"p":"F","g":"psbB","v":5.1,"s":"b"},{"p":"F","g":"psbB","v":4.71,"s":"b"},{"p":"F","g":"psbB","v":4.23,"s":"b"},
{"p":"F","g":"psbC","v":12.0,"s":"m"},{"p":"F","g":"psbC","v":10.8,"s":"m"},
{"p":"F","g":"psaA","v":56.3,"s":"m"},{"p":"F","g":"psaA","v":51.0,"s":"m"},{"p":"F","g":"psaA","v":48.9,"s":"m"},{"p":"F","g":"psaA","v":44.6,"s":"m"},
{"p":"F","g":"psaA","v":3.48,"s":"i"},{"p":"F","g":"psaA","v":2.8,"s":"i"},{"p":"F","g":"psaA","v":1.96,"s":"i"},
{"p":"F","g":"psaC","v":18.4,"s":"m"},{"p":"F","g":"psaC","v":16.6,"s":"m"},
{"p":"F","g":"ndhD1","v":20.3,"s":"m"},{"p":"F","g":"ndhD1","v":18.7,"s":"m"},
{"p":"G","g":"petA","v":0.1,"s":"b"},{"p":"G","g":"petA","v":0.08,"s":"b"},
{"p":"G","g":"petB","v":1.31,"s":"b"},{"p":"G","g":"petB","v":1.21,"s":"b"},{"p":"G","g":"petB","v":0.97,"s":"b"},
{"p":"G","g":"petC","v":0.22,"s":"b"},
{"p":"G","g":"psaB","v":2.87,"s":"b"},{"p":"G","g":"psaB","v":2.76,"s":"b"},{"p":"G","g":"psaB","v":2.39,"s":"b"},{"p":"G","g":"psaB","v":2.12,"s":"b"},
{"p":"G","g":"atpA","v":0.47,"s":"b"},{"p":"G","g":"atpA","v":0.38,"s":"b"},
{"p":"G","g":"atpB","v":0.45,"s":"b"},{"p":"G","g":"atpB","v":0.38,"s":"b"},{"p":"G","g":"atpB","v":0.42,"s":"b"},
{"p":"G","g":"rbcL","v":1.36,"s":"b"},{"p":"G","g":"rbcL","v":1.26,"s":"b"},{"p":"G","g":"rbcL","v":0.94,"s":"b"},
{"p":"G","g":"rbcS","v":0.62,"s":"b"},{"p":"G","g":"rbcS","v":0.52,"s":"b"},
{"p":"G","g":"psbA","v":14.6,"s":"m"},{"p":"G","g":"psbA","v":12.3,"s":"m"},{"p":"G","g":"psbA","v":11.0,"s":"m"},
{"p":"G","g":"psbB","v":0.62,"s":"b"},{"p":"G","g":"psbB","v":0.6,"s":"b"},
{"p":"G","g":"psbC","v":2.3,"s":"b"},{"p":"G","g":"psbC","v":1.98,"s":"b"},{"p":"G","g":"psbC","v":1.68,"s":"b"},
{"p":"G","g":"psaA","v":3.23,"s":"b"},{"p":"G","g":"psaA","v":2.99,"s":"b"},{"p":"G","g":"psaA","v":2.79,"s":"b"},{"p":"G","g":"psaA","v":2.27,"s":"b"},
{"p":"G","g":"psaC","v":2.69,"s":"b"},{"p":"G","g":"psaC","v":2.1,"s":"b"},
{"p":"G","g":"ndhD1","v":2.87,"s":"b"},{"p":"G","g":"ndhD1","v":2.76,"s":"b"},{"p":"G","g":"ndhD1","v":2.66,"s":"b"},{"p":"G","g":"ndhD1","v":2.27,"s":"b"},
{"p":"H","g":"petA","v":0.2,"s":"b"},
{"p":"H","g":"petB","v":1.64,"s":"b"},
{"p":"H","g":"petC","v":0.84,"s":"b"},
{"p":"H","g":"psaB","v":9.6,"s":"b"},{"p":"H","g":"psaB","v":8.4,"s":"b"},{"p":"H","g":"psaB","v":7.4,"s":"b"},
{"p":"H","g":"atpA","v":2.1,"s":"b"},
{"p":"H","g":"atpB","v":0.65,"s":"b"},
{"p":"H","g":"rbcL","v":6.7,"s":"b"},{"p":"H","g":"rbcL","v":6.0,"s":"b"},{"p":"H","g":"rbcL","v":5.2,"s":"b"},
{"p":"H","g":"rbcS","v":4.0,"s":"b"},{"p":"H","g":"rbcS","v":3.8,"s":"b"},
{"p":"H","g":"psbA","v":72.6,"s":"m"},{"p":"H","g":"psbA","v":63.0,"s":"m"},{"p":"H","g":"psbA","v":62.3,"s":"m"},{"p":"H","g":"psbA","v":53.1,"s":"m"},
{"p":"H","g":"psbB","v":3.1,"s":"b"},{"p":"H","g":"psbB","v":2.5,"s":"b"},
{"p":"H","g":"psbC","v":12.6,"s":"b"},{"p":"H","g":"psbC","v":11.3,"s":"b"},{"p":"H","g":"psbC","v":9.6,"s":"b"},
{"p":"H","g":"psaA","v":11.3,"s":"b"},{"p":"H","g":"psaA","v":10.5,"s":"b"},{"p":"H","g":"psaA","v":8.3,"s":"b"},
{"p":"H","g":"psaC","v":18.6,"s":"b"},{"p":"H","g":"psaC","v":17.7,"s":"b"},{"p":"H","g":"psaC","v":17.0,"s":"b"},{"p":"H","g":"psaC","v":14.2,"s":"b"},
{"p":"H","g":"ndhD1","v":19.6,"s":"b"},{"p":"H","g":"ndhD1","v":16.8,"s":"b"},{"p":"H","g":"ndhD1","v":15.6,"s":"b"},
{"p":"I","g":"petA","v":0.18,"s":"b"},
{"p":"I","g":"petB","v":2.74,"s":"b"},{"p":"I","g":"petB","v":2.38,"s":"b"},
{"p":"I","g":"petC","v":0.55,"s":"b"},
{"p":"I","g":"psaB","v":14.5,"s":"b"},{"p":"I","g":"psaB","v":13.5,"s":"b"},{"p":"I","g":"psaB","v":12.6,"s":"b"},
{"p":"I","g":"atpA","v":1.54,"s":"b"},
{"p":"I","g":"atpB","v":0.73,"s":"b"},
{"p":"I","g":"rbcL","v":7.9,"s":"b"},{"p":"I","g":"rbcL","v":7.3,"s":"b"},{"p":"I","g":"rbcL","v":5.7,"s":"b"},
{"p":"I","g":"rbcS","v":5.0,"s":"b"},{"p":"I","g":"rbcS","v":4.5,"s":"b"},{"p":"I","g":"rbcS","v":3.5,"s":"b"},
{"p":"I","g":"psbA","v":38.1,"s":"m"},{"p":"I","g":"psbA","v":34.8,"s":"m"},{"p":"I","g":"psbA","v":32.3,"s":"m"},
{"p":"I","g":"psbB","v":3.8,"s":"b"},{"p":"I","g":"psbB","v":3.4,"s":"b"},
{"p":"I","g":"psbC","v":11.3,"s":"b"},{"p":"I","g":"psbC","v":10.05,"s":"b"},{"p":"I","g":"psbC","v":9.8,"s":"b"},
{"p":"I","g":"psaA","v":17.6,"s":"b"},{"p":"I","g":"psaA","v":15.8,"s":"b"},{"p":"I","g":"psaA","v":13.6,"s":"b"},
{"p":"I","g":"psaC","v":18.3,"s":"b"},{"p":"I","g":"psaC","v":16.7,"s":"b"},{"p":"I","g":"psaC","v":3.66,"s":"b"},
{"p":"I","g":"ndhD1","v":13.2,"s":"b"},{"p":"I","g":"ndhD1","v":11.9,"s":"b"},{"p":"I","g":"ndhD1","v":10.6,"s":"b"},
{"p":"J","g":"petA","v":0.06,"s":"b"},
{"p":"J","g":"petB","v":0.88,"s":"b"},{"p":"J","g":"petB","v":0.75,"s":"b"},{"p":"J","g":"petB","v":0.69,"s":"b"},
{"p":"J","g":"petC","v":0.28,"s":"b"},{"p":"J","g":"petC","v":0.22,"s":"b"},
{"p":"J","g":"psaB","v":1.7,"s":"b"},{"p":"J","g":"psaB","v":1.59,"s":"b"},{"p":"J","g":"psaB","v":1.33,"s":"b"},
{"p":"J","g":"atpA","v":0.5,"s":"b"},{"p":"J","g":"atpA","v":0.42,"s":"b"},
{"p":"J","g":"atpB","v":3.5,"s":"b"},{"p":"J","g":"atpB","v":3.45,"s":"b"},{"p":"J","g":"atpB","v":2.64,"s":"b"},{"p":"J","g":"atpB","v":2.3,"s":"b"},
{"p":"J","g":"rbcL","v":0.9,"s":"b"},{"p":"J","g":"rbcL","v":0.78,"s":"b"},
{"p":"J","g":"rbcS","v":0.45,"s":"b"},{"p":"J","g":"rbcS","v":0.48,"s":"b"},
{"p":"J","g":"psbA","v":15.8,"s":"m"},{"p":"J","g":"psbA","v":14.5,"s":"m"},{"p":"J","g":"psbA","v":13.8,"s":"m"},
{"p":"J","g":"psbB","v":0.7,"s":"b"},{"p":"J","g":"psbB","v":0.6,"s":"b"},
{"p":"J","g":"psbC","v":2.26,"s":"b"},{"p":"J","g":"psbC","v":2.05,"s":"b"},{"p":"J","g":"psbC","v":1.79,"s":"b"},
{"p":"J","g":"psaA","v":4.56,"s":"b"},{"p":"J","g":"psaA","v":4.42,"s":"b"},{"p":"J","g":"psaA","v":4.2,"s":"b"},
{"p":"J","g":"psaC","v":1.45,"s":"b"},{"p":"J","g":"psaC","v":1.35,"s":"b"},
{"p":"J","g":"ndhD1","v":1.37,"s":"b"},{"p":"J","g":"ndhD1","v":1.02,"s":"b"},{"p":"J","g":"ndhD1","v":0.81,"s":"b"}
]
},
"concat":[
{"width":455,"height":344,
"resolve":{"scale":{"x":"independent","y":"independent"},"axis":{"x":"independent","y":"independent"}},
"layer":[
{"layer":[
{"data":{"name":"box"},"transform":[{"filter":"datum.p=='A'&&datum.s!='i'"}],"mark":{"type":"rule","color":"black","strokeWidth":1.5},
"encoding":{"x":{"field":"g","type":"nominal","scale":{"type":"point","domain":["petA","petB","petC","psaB","atpA","atpB","rbcL","rbcS","psbA","psbB","psbC","psaA","psaC","ndhD1"],"padding":0.55},"axis":{"style":"mx","title":null,"orient":"bottom","labelFontStyle":{"condition":{"test":"indexof(['petA','psaB','rbcL','psbB','psaC'],datum.value)>=0","value":"normal"},"value":"italic"}}},
"y":{"field":"lo","type":"quantitative","scale":{"domain":[-20,80],"nice":false,"zero":false},"axis":{"style":"my","orient":"left","title":"A","titleX":-61,"titleY":-23,"values":[-20,0,20,40,60,80]}},"y2":{"field":"hi"}}},
{"data":{"name":"box"},"transform":[{"filter":"datum.p=='A'&&datum.s!='i'"}],"mark":{"type":"bar","size":22,"stroke":"black","strokeWidth":2,"fill":{"gradient":"linear","x1":0,"y1":0,"x2":0,"y2":1,"stops":[{"offset":0,"color":"#2aa6aa"},{"offset":1,"color":"#ffffff"}]}},
"encoding":{"x":{"field":"g","type":"nominal"},"y":{"field":"q1","type":"quantitative"},"y2":{"field":"q3"}}},
{"data":{"name":"box"},"transform":[{"filter":"datum.p=='A'&&datum.s!='i'"}],"mark":{"type":"tick","color":"black","size":22,"thickness":2},
"encoding":{"x":{"field":"g","type":"nominal"},"y":{"field":"md","type":"quantitative"}}},
{"data":{"name":"pts"},"transform":[{"filter":"datum.p=='A'&&datum.s!='i'"}],"mark":{"type":"circle","size":80,"fill":"#e8222a","opacity":1,"stroke":"#f7a3a3","strokeWidth":2,"strokeOpacity":0.6},
"encoding":{"x":{"field":"g","type":"nominal"},"y":{"field":"v","type":"quantitative"}}}
]},
{"layer":[
{"data":{"name":"box"},"transform":[{"filter":"datum.p=='A'&&datum.s!='m'"}],"mark":{"type":"rule","color":"black","strokeWidth":1.2},
"encoding":{"x":{"field":"g","type":"nominal","scale":{"type":"point","domain":["petA","petB","petC","psaB","atpA","atpB","rbcL","rbcS","psbA","psbB","psbC","psaA","psaC","ndhD1"],"padding":0.5,"range":[22,264]},"axis":{"style":"ix","title":null,"orient":"bottom","offset":-142,"labelFontSize":10}},
"y":{"field":"lo","type":"quantitative","scale":{"domain":[-0.35,8],"range":[202,10],"nice":false,"zero":false},"axis":{"style":"iy","title":null,"orient":"left","offset":-22,"values":[0,2,4,6,8],"format":"d","labelFontSize":14}},"y2":{"field":"hi"}}},
{"data":{"name":"box"},"transform":[{"filter":"datum.p=='A'&&datum.s!='m'"}],"mark":{"type":"bar","size":11,"stroke":"black","strokeWidth":1.5,"fill":{"gradient":"linear","x1":0,"y1":0,"x2":0,"y2":1,"stops":[{"offset":0,"color":"#2aa6aa"},{"offset":1,"color":"#ffffff"}]}},
"encoding":{"x":{"field":"g","type":"nominal"},"y":{"field":"q1","type":"quantitative"},"y2":{"field":"q3"}}},
{"data":{"name":"box"},"transform":[{"filter":"datum.p=='A'&&datum.s!='m'"}],"mark":{"type":"tick","color":"black","size":11,"thickness":1.5},
"encoding":{"x":{"field":"g","type":"nominal"},"y":{"field":"md","type":"quantitative"}}},
{"data":{"name":"pts"},"transform":[{"filter":"datum.p=='A'&&datum.s!='m'"}],"mark":{"type":"circle","size":30,"fill":"#e8222a","opacity":1,"stroke":"#f7a3a3","strokeWidth":1.5,"strokeOpacity":0.6},
"encoding":{"x":{"field":"g","type":"nominal"},"y":{"field":"v","type":"quantitative"}}}
]},
{"data":{"name":"box"},"transform":[{"filter":"datum.p=='A'&&datum.s!='m'"}],"mark":{"type":"point","opacity":0},
"encoding":{"x":{"field":"g","type":"nominal","scale":{"type":"point","domain":["petA","petB","petC","psaB","atpA","atpB","rbcL","rbcS","psbA","psbB","psbC","psaA","psaC","ndhD1"],"padding":0.5,"range":[22,264]},"axis":{"style":"fr","orient":"top","offset":-10,"title":"Δrnj","titleX":414,"titleY":32,"titleFontSize":31}},
"y":{"field":"md","type":"quantitative","scale":{"domain":[-0.35,8],"range":[202,10],"nice":false,"zero":false},"axis":{"style":"fr","orient":"right","offset":-191,"title":null}}}}
]},
{"width":455,"height":344,
"resolve":{"scale":{"x":"independent","y":"independent"},"axis":{"x":"independent","y":"independent"}},
"layer":[
{"layer":[
{"data":{"name":"box"},"transform":[{"filter":"datum.p=='B'&&datum.s!='i'"}],"mark":{"type":"rule","color":"black","strokeWidth":1.5},
"encoding":{"x":{"field":"g","type":"nominal","scale":{"type":"point","domain":["petA","petB","petC","psaB","atpA","atpB","rbcL","rbcS","psbA","psbB","psbC","psaA","psaC","ndhD1"],"padding":0.55},"axis":{"style":"mx","title":null,"orient":"bottom","labelFontStyle":{"condition":{"test":"indexof(['petA','psaB','rbcL','psbB','psaC'],datum.value)>=0","value":"normal"},"value":"italic"}}},
"y":{"field":"lo","type":"quantitative","scale":{"domain":[-4.25,80],"nice":false,"zero":false},"axis":{"style":"my","orient":"left","title":"B","titleX":-52,"titleY":-23,"values":[0,20,40,60,80]}},"y2":{"field":"hi"}}},
{"data":{"name":"box"},"transform":[{"filter":"datum.p=='B'&&datum.s!='i'"}],"mark":{"type":"bar","size":22,"stroke":"black","strokeWidth":2,"fill":{"gradient":"linear","x1":0,"y1":0,"x2":0,"y2":1,"stops":[{"offset":0,"color":"#a3b5ec"},{"offset":1,"color":"#ffffff"}]}},
"encoding":{"x":{"field":"g","type":"nominal"},"y":{"field":"q1","type":"quantitative"},"y2":{"field":"q3"}}},
{"data":{"name":"box"},"transform":[{"filter":"datum.p=='B'&&datum.s!='i'"}],"mark":{"type":"tick","color":"black","size":22,"thickness":2},
"encoding":{"x":{"field":"g","type":"nominal"},"y":{"field":"md","type":"quantitative"}}},
{"data":{"name":"pts"},"transform":[{"filter":"datum.p=='B'&&datum.s!='i'"}],"mark":{"type":"circle","size":80,"fill":"#e8222a","opacity":1,"stroke":"#f7a3a3","strokeWidth":2,"strokeOpacity":0.6},
"encoding":{"x":{"field":"g","type":"nominal"},"y":{"field":"v","type":"quantitative"}}}
]},
{"layer":[
{"data":{"name":"box"},"transform":[{"filter":"datum.p=='B'&&datum.s!='m'"}],"mark":{"type":"rule","color":"black","strokeWidth":1.2},
"encoding":{"x":{"field":"g","type":"nominal","scale":{"type":"point","domain":["petA","petB","petC","psaB","atpA","atpB","rbcL","rbcS","psbA","psbB","psbC","psaA","psaC","ndhD1"],"padding":0.5,"range":[17,259]},"axis":{"style":"ix","title":null,"orient":"bottom","offset":-136,"labelFontSize":11}},
"y":{"field":"lo","type":"quantitative","scale":{"domain":[-0.5,9.05],"range":[208,11],"nice":false,"zero":false},"axis":{"style":"iy","title":null,"orient":"left","offset":-17,"values":[0,2,4,6,8],"format":"d","labelFontSize":13}},"y2":{"field":"hi"}}},
{"data":{"name":"box"},"transform":[{"filter":"datum.p=='B'&&datum.s!='m'"}],"mark":{"type":"bar","size":11,"stroke":"black","strokeWidth":1.5,"fill":{"gradient":"linear","x1":0,"y1":0,"x2":0,"y2":1,"stops":[{"offset":0,"color":"#a3b5ec"},{"offset":1,"color":"#ffffff"}]}},
"encoding":{"x":{"field":"g","type":"nominal"},"y":{"field":"q1","type":"quantitative"},"y2":{"field":"q3"}}},
{"data":{"name":"box"},"transform":[{"filter":"datum.p=='B'&&datum.s!='m'"}],"mark":{"type":"tick","color":"black","size":11,"thickness":1.5},
"encoding":{"x":{"field":"g","type":"nominal"},"y":{"field":"md","type":"quantitative"}}},
{"data":{"name":"pts"},"transform":[{"filter":"datum.p=='B'&&datum.s!='m'"}],"mark":{"type":"circle","size":35,"fill":"#e8222a","opacity":1,"stroke":"#f7a3a3","strokeWidth":1.5,"strokeOpacity":0.6},
"encoding":{"x":{"field":"g","type":"nominal"},"y":{"field":"v","type":"quantitative"}}}
]},
{"data":{"name":"box"},"transform":[{"filter":"datum.p=='B'&&datum.s!='m'"}],"mark":{"type":"point","opacity":0},
"encoding":{"x":{"field":"g","type":"nominal","scale":{"type":"point","domain":["petA","petB","petC","psaB","atpA","atpB","rbcL","rbcS","psbA","psbB","psbC","psaA","psaC","ndhD1"],"padding":0.5,"range":[17,259]},"axis":{"style":"fr","orient":"top","offset":-11,"title":"Δrpph","titleX":419,"titleY":30,"titleFontSize":30}},
"y":{"field":"md","type":"quantitative","scale":{"domain":[-0.5,9.05],"range":[208,11],"nice":false,"zero":false},"axis":{"style":"fr","orient":"right","offset":-196,"title":null}}}}
]},
{"width":455,"height":344,
"resolve":{"scale":{"x":"independent","y":"independent"},"axis":{"x":"independent","y":"independent"}},
"layer":[
{"layer":[
{"data":{"name":"box"},"transform":[{"filter":"datum.p=='C'&&datum.s!='i'"}],"mark":{"type":"rule","color":"black","strokeWidth":1.5},
"encoding":{"x":{"field":"g","type":"nominal","scale":{"type":"point","domain":["petA","petB","petC","psaB","atpA","atpB","rbcL","rbcS","psbA","psbB","psbC","psaA","psaC","ndhD1"],"padding":0.55},"axis":{"style":"mx","title":null,"orient":"bottom","labelFontStyle":{"condition":{"test":"indexof(['petA','psaB','rbcL','psbB','psaC'],datum.value)>=0","value":"normal"},"value":"italic"}}},
"y":{"field":"lo","type":"quantitative","scale":{"domain":[-5.3,90],"nice":false,"zero":false},"axis":{"style":"my","orient":"left","title":"C","titleX":-61,"titleY":-21,"values":[0,20,40,60,80]}},"y2":{"field":"hi"}}},
{"data":{"name":"box"},"transform":[{"filter":"datum.p=='C'&&datum.s!='i'"}],"mark":{"type":"bar","size":22,"stroke":"black","strokeWidth":2,"fill":{"gradient":"linear","x1":0,"y1":0,"x2":0,"y2":1,"stops":[{"offset":0,"color":"#8a3c94"},{"offset":1,"color":"#ffffff"}]}},
"encoding":{"x":{"field":"g","type":"nominal"},"y":{"field":"q1","type":"quantitative"},"y2":{"field":"q3"}}},
{"data":{"name":"box"},"transform":[{"filter":"datum.p=='C'&&datum.s!='i'"}],"mark":{"type":"tick","color":"black","size":22,"thickness":2},
"encoding":{"x":{"field":"g","type":"nominal"},"y":{"field":"md","type":"quantitative"}}},
{"data":{"name":"pts"},"transform":[{"filter":"datum.p=='C'&&datum.s!='i'"}],"mark":{"type":"circle","size":80,"fill":"#e8222a","opacity":1,"stroke":"#f7a3a3","strokeWidth":2,"strokeOpacity":0.6},
"encoding":{"x":{"field":"g","type":"nominal"},"y":{"field":"v","type":"quantitative"}}}
]},
{"layer":[
{"data":{"name":"box"},"transform":[{"filter":"datum.p=='C'&&datum.s!='m'"}],"mark":{"type":"rule","color":"black","strokeWidth":1.2},
"encoding":{"x":{"field":"g","type":"nominal","scale":{"type":"point","domain":["petA","petB","petC","psaB","atpA","atpB","rbcL","rbcS","psbA","psbB","psbC","psaA","psaC","ndhD1"],"padding":0.5,"range":[127,449]},"axis":{"style":"ix","title":null,"orient":"bottom","offset":-87,"labelFontSize":13}},
"y":{"field":"lo","type":"quantitative","scale":{"domain":[-0.4,8.05],"range":[257,10],"nice":false,"zero":false},"axis":{"style":"iy","title":null,"orient":"left","offset":-127,"values":[0,2,4,6,8],"format":"d","labelFontSize":20}},"y2":{"field":"hi"}}},
{"data":{"name":"box"},"transform":[{"filter":"datum.p=='C'&&datum.s!='m'"}],"mark":{"type":"bar","size":15,"stroke":"black","strokeWidth":1.5,"fill":{"gradient":"linear","x1":0,"y1":0,"x2":0,"y2":1,"stops":[{"offset":0,"color":"#8a3c94"},{"offset":1,"color":"#ffffff"}]}},
"encoding":{"x":{"field":"g","type":"nominal"},"y":{"field":"q1","type":"quantitative"},"y2":{"field":"q3"}}},
{"data":{"name":"box"},"transform":[{"filter":"datum.p=='C'&&datum.s!='m'"}],"mark":{"type":"tick","color":"black","size":15,"thickness":1.5},
"encoding":{"x":{"field":"g","type":"nominal"},"y":{"field":"md","type":"quantitative"}}},
{"data":{"name":"pts"},"transform":[{"filter":"datum.p=='C'&&datum.s!='m'"}],"mark":{"type":"circle","size":50,"fill":"#e8222a","opacity":1,"stroke":"#f7a3a3","strokeWidth":1.5,"strokeOpacity":0.6},
"encoding":{"x":{"field":"g","type":"nominal"},"y":{"field":"v","type":"quantitative"}}}
]},
{"data":{"name":"box"},"transform":[{"filter":"datum.p=='C'&&datum.s!='m'"}],"mark":{"type":"point","opacity":0},
"encoding":{"x":{"field":"g","type":"nominal","scale":{"type":"point","domain":["petA","petB","petC","psaB","atpA","atpB","rbcL","rbcS","psbA","psbB","psbC","psaA","psaC","ndhD1"],"padding":0.5,"range":[127,449]},"axis":{"style":"fr","orient":"top","offset":-10,"title":"ΔIII-1","titleX":374,"titleY":45,"titleFontSize":25}},
"y":{"field":"md","type":"quantitative","scale":{"domain":[-0.4,8.05],"range":[257,10],"nice":false,"zero":false},"axis":{"style":"fr","orient":"right","offset":-6,"title":null}}}}
]},
{"width":455,"height":344,
"resolve":{"scale":{"x":"independent","y":"independent"},"axis":{"x":"independent","y":"independent"}},
"layer":[
{"layer":[
{"data":{"name":"box"},"transform":[{"filter":"datum.p=='D'&&datum.s!='i'"}],"mark":{"type":"rule","color":"black","strokeWidth":1.5},
"encoding":{"x":{"field":"g","type":"nominal","scale":{"type":"point","domain":["petA","petB","petC","psaB","atpA","atpB","rbcL","rbcS","psbA","psbB","psbC","psaA","psaC","ndhD1"],"padding":0.55},"axis":{"style":"mx","title":null,"orient":"bottom","labelFontStyle":{"condition":{"test":"indexof(['petA','psaB','rbcL','psbB','psaC'],datum.value)>=0","value":"normal"},"value":"italic"}}},
"y":{"field":"lo","type":"quantitative","scale":{"domain":[-5,25],"nice":false,"zero":false},"axis":{"style":"my","orient":"left","title":"D","titleX":-52,"titleY":-21,"values":[0,10,20]}},"y2":{"field":"hi"}}},
{"data":{"name":"box"},"transform":[{"filter":"datum.p=='D'&&datum.s!='i'"}],"mark":{"type":"bar","size":22,"stroke":"black","strokeWidth":2,"fill":{"gradient":"linear","x1":0,"y1":0,"x2":0,"y2":1,"stops":[{"offset":0,"color":"#3fa3e3"},{"offset":1,"color":"#ffffff"}]}},
"encoding":{"x":{"field":"g","type":"nominal"},"y":{"field":"q1","type":"quantitative"},"y2":{"field":"q3"}}},
{"data":{"name":"box"},"transform":[{"filter":"datum.p=='D'&&datum.s!='i'"}],"mark":{"type":"tick","color":"black","size":22,"thickness":2},
"encoding":{"x":{"field":"g","type":"nominal"},"y":{"field":"md","type":"quantitative"}}},
{"data":{"name":"pts"},"transform":[{"filter":"datum.p=='D'&&datum.s!='i'"}],"mark":{"type":"circle","size":80,"fill":"#e8222a","opacity":1,"stroke":"#f7a3a3","strokeWidth":2,"strokeOpacity":0.6},
"encoding":{"x":{"field":"g","type":"nominal"},"y":{"field":"v","type":"quantitative"}}}
]},
{"layer":[
{"data":{"name":"box"},"transform":[{"filter":"datum.p=='D'&&datum.s!='m'"}],"mark":{"type":"rule","color":"black","strokeWidth":1.2},
"encoding":{"x":{"field":"g","type":"nominal","scale":{"type":"point","domain":["petA","petB","petC","psaB","atpA","atpB","rbcL","rbcS","psbA","psbB","psbC","psaA","psaC","ndhD1"],"padding":0.5,"range":[21,296]},"axis":{"style":"ix","title":null,"orient":"bottom","offset":-130,"labelFontSize":11}},
"y":{"field":"lo","type":"quantitative","scale":{"domain":[-0.45,8.05],"range":[214,7],"nice":false,"zero":false},"axis":{"style":"iy","title":null,"orient":"left","offset":-21,"values":[0,2,4,6,8],"format":"d","labelFontSize":15}},"y2":{"field":"hi"}}},
{"data":{"name":"box"},"transform":[{"filter":"datum.p=='D'&&datum.s!='m'"}],"mark":{"type":"bar","size":13,"stroke":"black","strokeWidth":1.5,"fill":{"gradient":"linear","x1":0,"y1":0,"x2":0,"y2":1,"stops":[{"offset":0,"color":"#3fa3e3"},{"offset":1,"color":"#ffffff"}]}},
"encoding":{"x":{"field":"g","type":"nominal"},"y":{"field":"q1","type":"quantitative"},"y2":{"field":"q3"}}},
{"data":{"name":"box"},"transform":[{"filter":"datum.p=='D'&&datum.s!='m'"}],"mark":{"type":"tick","color":"black","size":13,"thickness":1.5},
"encoding":{"x":{"field":"g","type":"nominal"},"y":{"field":"md","type":"quantitative"}}},
{"data":{"name":"pts"},"transform":[{"filter":"datum.p=='D'&&datum.s!='m'"}],"mark":{"type":"circle","size":40,"fill":"#e8222a","opacity":1,"stroke":"#f7a3a3","strokeWidth":1.5,"strokeOpacity":0.6},
"encoding":{"x":{"field":"g","type":"nominal"},"y":{"field":"v","type":"quantitative"}}}
]},
{"data":{"name":"box"},"transform":[{"filter":"datum.p=='D'&&datum.s!='m'"}],"mark":{"type":"point","opacity":0},
"encoding":{"x":{"field":"g","type":"nominal","scale":{"type":"point","domain":["petA","petB","petC","psaB","atpA","atpB","rbcL","rbcS","psbA","psbB","psbC","psaA","psaC","ndhD1"],"padding":0.5,"range":[21,296]},"axis":{"style":"fr","orient":"top","offset":-7,"title":"ΔIII-2","titleX":425,"titleY":50,"titleFontSize":32}},
"y":{"field":"md","type":"quantitative","scale":{"domain":[-0.45,8.05],"range":[214,7],"nice":false,"zero":false},"axis":{"style":"fr","orient":"right","offset":-159,"title":null}}}}
]},
{"width":455,"height":344,
"resolve":{"scale":{"x":"independent","y":"independent"},"axis":{"x":"independent","y":"independent"}},
"layer":[
{"layer":[
{"data":{"name":"box"},"transform":[{"filter":"datum.p=='E'&&datum.s!='i'"}],"mark":{"type":"rule","color":"black","strokeWidth":1.5},
"encoding":{"x":{"field":"g","type":"nominal","scale":{"type":"point","domain":["petA","petB","petC","psaB","atpA","atpB","rbcL","rbcS","psbA","psbB","psbC","psaA","psaC","ndhD1"],"padding":0.55},"axis":{"style":"mx","title":null,"orient":"bottom","labelFontStyle":{"condition":{"test":"indexof(['petA','psaB','rbcL','psbB','psaC'],datum.value)>=0","value":"normal"},"value":"italic"}}},
"y":{"field":"lo","type":"quantitative","scale":{"domain":[-22,110],"nice":false,"zero":false},"axis":{"style":"my","orient":"left","title":"E","titleX":-61,"titleY":-20,"values":[-20,0,20,40,60,80,100]}},"y2":{"field":"hi"}}},
{"data":{"name":"box"},"transform":[{"filter":"datum.p=='E'&&datum.s!='i'"}],"mark":{"type":"bar","size":22,"stroke":"black","strokeWidth":2,"fill":{"gradient":"linear","x1":0,"y1":0,"x2":0,"y2":1,"stops":[{"offset":0,"color":"#2c4fb3"},{"offset":1,"color":"#ffffff"}]}},
"encoding":{"x":{"field":"g","type":"nominal"},"y":{"field":"q1","type":"quantitative"},"y2":{"field":"q3"}}},
{"data":{"name":"box"},"transform":[{"filter":"datum.p=='E'&&datum.s!='i'"}],"mark":{"type":"tick","color":"black","size":22,"thickness":2},
"encoding":{"x":{"field":"g","type":"nominal"},"y":{"field":"md","type":"quantitative"}}},
{"data":{"name":"pts"},"transform":[{"filter":"datum.p=='E'&&datum.s!='i'"}],"mark":{"type":"circle","size":80,"fill":"#e8222a","opacity":1,"stroke":"#f7a3a3","strokeWidth":2,"strokeOpacity":0.6},
"encoding":{"x":{"field":"g","type":"nominal"},"y":{"field":"v","type":"quantitative"}}}
]},
{"layer":[
{"data":{"name":"box"},"transform":[{"filter":"datum.p=='E'&&datum.s!='m'"}],"mark":{"type":"rule","color":"black","strokeWidth":1.2},
"encoding":{"x":{"field":"g","type":"nominal","scale":{"type":"point","domain":["petA","petB","petC","psaB","atpA","atpB","rbcL","rbcS","psbA","psbB","psbC","psaA","psaC","ndhD1"],"padding":0.5,"range":[29,326]},"axis":{"style":"ix","title":null,"orient":"bottom","offset":-110,"labelFontSize":13}},
"y":{"field":"lo","type":"quantitative","scale":{"domain":[-0.6,10.1],"range":[234,15],"nice":false,"zero":false},"axis":{"style":"iy","title":null,"orient":"left","offset":-29,"values":[0,2,4,6,8,10],"format":"d","labelFontSize":20}},"y2":{"field":"hi"}}},
{"data":{"name":"box"},"transform":[{"filter":"datum.p=='E'&&datum.s!='m'"}],"mark":{"type":"bar","size":14,"stroke":"black","strokeWidth":1.5,"fill":{"gradient":"linear","x1":0,"y1":0,"x2":0,"y2":1,"stops":[{"offset":0,"color":"#2c4fb3"},{"offset":1,"color":"#ffffff"}]}},
"encoding":{"x":{"field":"g","type":"nominal"},"y":{"field":"q1","type":"quantitative"},"y2":{"field":"q3"}}},
{"data":{"name":"box"},"transform":[{"filter":"datum.p=='E'&&datum.s!='m'"}],"mark":{"type":"tick","color":"black","size":14,"thickness":1.5},
"encoding":{"x":{"field":"g","type":"nominal"},"y":{"field":"md","type":"quantitative"}}},
{"data":{"name":"pts"},"transform":[{"filter":"datum.p=='E'&&datum.s!='m'"}],"mark":{"type":"circle","size":45,"fill":"#e8222a","opacity":1,"stroke":"#f7a3a3","strokeWidth":1.5,"strokeOpacity":0.6},
"encoding":{"x":{"field":"g","type":"nominal"},"y":{"field":"v","type":"quantitative"}}}
]},
{"data":{"name":"box"},"transform":[{"filter":"datum.p=='E'&&datum.s!='m'"}],"mark":{"type":"point","opacity":0},
"encoding":{"x":{"field":"g","type":"nominal","scale":{"type":"point","domain":["petA","petB","petC","psaB","atpA","atpB","rbcL","rbcS","psbA","psbB","psbC","psaA","psaC","ndhD1"],"padding":0.5,"range":[29,326]},"axis":{"style":"fr","orient":"top","offset":-15,"title":"ΔIII-3","titleX":413,"titleY":34,"titleFontSize":31}},
"y":{"field":"md","type":"quantitative","scale":{"domain":[-0.6,10.1],"range":[234,15],"nice":false,"zero":false},"axis":{"style":"fr","orient":"right","offset":-129,"title":null}}}}
]},
{"width":455,"height":344,
"resolve":{"scale":{"x":"independent","y":"independent"},"axis":{"x":"independent","y":"independent"}},
"layer":[
{"layer":[
{"data":{"name":"box"},"transform":[{"filter":"datum.p=='F'&&datum.s!='i'"}],"mark":{"type":"rule","color":"black","strokeWidth":1.5},
"encoding":{"x":{"field":"g","type":"nominal","scale":{"type":"point","domain":["petA","petB","petC","psaB","atpA","atpB","rbcL","rbcS","psbA","psbB","psbC","psaA","psaC","ndhD1"],"padding":0.55},"axis":{"style":"mx","title":null,"orient":"bottom","labelFontStyle":{"condition":{"test":"indexof(['petA','psaB','rbcL','psbB','psaC'],datum.value)>=0","value":"normal"},"value":"italic"}}},
"y":{"field":"lo","type":"quantitative","scale":{"domain":[-5.5,90],"nice":false,"zero":false},"axis":{"style":"my","orient":"left","title":"F","titleX":-52,"titleY":-20,"values":[0,20,40,60,80]}},"y2":{"field":"hi"}}},
{"data":{"name":"box"},"transform":[{"filter":"datum.p=='F'&&datum.s!='i'"}],"mark":{"type":"bar","size":22,"stroke":"black","strokeWidth":2,"fill":{"gradient":"linear","x1":0,"y1":0,"x2":0,"y2":1,"stops":[{"offset":0,"color":"#5a3a9c"},{"offset":1,"color":"#ffffff"}]}},
"encoding":{"x":{"field":"g","type":"nominal"},"y":{"field":"q1","type":"quantitative"},"y2":{"field":"q3"}}},
{"data":{"name":"box"},"transform":[{"filter":"datum.p=='F'&&datum.s!='i'"}],"mark":{"type":"tick","color":"black","size":22,"thickness":2},
"encoding":{"x":{"field":"g","type":"nominal"},"y":{"field":"md","type":"quantitative"}}},
{"data":{"name":"pts"},"transform":[{"filter":"datum.p=='F'&&datum.s!='i'"}],"mark":{"type":"circle","size":80,"fill":"#e8222a","opacity":1,"stroke":"#f7a3a3","strokeWidth":2,"strokeOpacity":0.6},
"encoding":{"x":{"field":"g","type":"nominal"},"y":{"field":"v","type":"quantitative"}}}
]},
{"layer":[
{"data":{"name":"box"},"transform":[{"filter":"datum.p=='F'&&datum.s!='m'"}],"mark":{"type":"rule","color":"black","strokeWidth":1.2},
"encoding":{"x":{"field":"g","type":"nominal","scale":{"type":"point","domain":["petA","petB","petC","psaB","atpA","atpB","rbcL","rbcS","psbA","psbB","psbC","psaA","psaC","ndhD1"],"padding":0.5,"range":[24,323]},"axis":{"style":"ix","title":null,"orient":"bottom","offset":-118,"labelFontSize":12}},
"y":{"field":"lo","type":"quantitative","scale":{"domain":[-0.35,8],"range":[226,9],"nice":false,"zero":false},"axis":{"style":"iy","title":null,"orient":"left","offset":-24,"values":[0,2,4,6,8],"format":"d","labelFontSize":18}},"y2":{"field":"hi"}}},
{"data":{"name":"box"},"transform":[{"filter":"datum.p=='F'&&datum.s!='m'"}],"mark":{"type":"bar","size":14,"stroke":"black","strokeWidth":1.5,"fill":{"gradient":"linear","x1":0,"y1":0,"x2":0,"y2":1,"stops":[{"offset":0,"color":"#5a3a9c"},{"offset":1,"color":"#ffffff"}]}},
"encoding":{"x":{"field":"g","type":"nominal"},"y":{"field":"q1","type":"quantitative"},"y2":{"field":"q3"}}},
{"data":{"name":"box"},"transform":[{"filter":"datum.p=='F'&&datum.s!='m'"}],"mark":{"type":"tick","color":"black","size":14,"thickness":1.5},
"encoding":{"x":{"field":"g","type":"nominal"},"y":{"field":"md","type":"quantitative"}}},
{"data":{"name":"pts"},"transform":[{"filter":"datum.p=='F'&&datum.s!='m'"}],"mark":{"type":"circle","size":45,"fill":"#e8222a","opacity":1,"stroke":"#f7a3a3","strokeWidth":1.5,"strokeOpacity":0.6},
"encoding":{"x":{"field":"g","type":"nominal"},"y":{"field":"v","type":"quantitative"}}}
]},
{"data":{"name":"box"},"transform":[{"filter":"datum.p=='F'&&datum.s!='m'"}],"mark":{"type":"point","opacity":0},
"encoding":{"x":{"field":"g","type":"nominal","scale":{"type":"point","domain":["petA","petB","petC","psaB","atpA","atpB","rbcL","rbcS","psbA","psbB","psbC","psaA","psaC","ndhD1"],"padding":0.5,"range":[24,323]},"axis":{"style":"fr","orient":"top","offset":-9,"title":"WT","titleX":431,"titleY":33,"titleFontSize":34,"titleFontStyle":"normal"}},
"y":{"field":"md","type":"quantitative","scale":{"domain":[-0.35,8],"range":[226,9],"nice":false,"zero":false},"axis":{"style":"fr","orient":"right","offset":-132,"title":null}}}}
]},
{"width":455,"height":344,
"resolve":{"scale":{"x":"independent","y":"independent"},"axis":{"x":"independent","y":"independent"}},
"layer":[
{"layer":[
{"data":{"name":"box"},"transform":[{"filter":"datum.p=='G'&&datum.s!='i'"}],"mark":{"type":"rule","color":"black","strokeWidth":1.5},
"encoding":{"x":{"field":"g","type":"nominal","scale":{"type":"point","domain":["petA","petB","petC","psaB","atpA","atpB","rbcL","rbcS","psbA","psbB","psbC","psaA","psaC","ndhD1"],"padding":0.55},"axis":{"style":"mx","title":null,"orient":"bottom","labelFontStyle":{"condition":{"test":"indexof(['petA','psaB','rbcL','psbB','psaC'],datum.value)>=0","value":"normal"},"value":"italic"}}},
"y":{"field":"lo","type":"quantitative","scale":{"domain":[-5.3,90],"nice":false,"zero":false},"axis":{"style":"my","orient":"left","title":"G","titleX":-61,"titleY":-17,"values":[0,20,40,60,80]}},"y2":{"field":"hi"}}},
{"data":{"name":"box"},"transform":[{"filter":"datum.p=='G'&&datum.s!='i'"}],"mark":{"type":"bar","size":22,"stroke":"black","strokeWidth":2,"fill":{"gradient":"linear","x1":0,"y1":0,"x2":0,"y2":1,"stops":[{"offset":0,"color":"#1e62a4"},{"offset":1,"color":"#ffffff"}]}},
"encoding":{"x":{"field":"g","type":"nominal"},"y":{"field":"q1","type":"quantitative"},"y2":{"field":"q3"}}},
{"data":{"name":"box"},"transform":[{"filter":"datum.p=='G'&&datum.s!='i'"}],"mark":{"type":"tick","color":"black","size":22,"thickness":2},
"encoding":{"x":{"field":"g","type":"nominal"},"y":{"field":"md","type":"quantitative"}}},
{"data":{"name":"pts"},"transform":[{"filter":"datum.p=='G'&&datum.s!='i'"}],"mark":{"type":"circle","size":80,"fill":"#e8222a","opacity":1,"stroke":"#f7a3a3","strokeWidth":2,"strokeOpacity":0.6},
"encoding":{"x":{"field":"g","type":"nominal"},"y":{"field":"v","type":"quantitative"}}}
]},
{"layer":[
{"data":{"name":"box"},"transform":[{"filter":"datum.p=='G'&&datum.s!='m'"}],"mark":{"type":"rule","color":"black","strokeWidth":1.2},
"encoding":{"x":{"field":"g","type":"nominal","scale":{"type":"point","domain":["petA","petB","petC","psaB","atpA","atpB","rbcL","rbcS","psbA","psbB","psbC","psaA","psaC","ndhD1"],"padding":0.5,"range":[183,448]},"axis":{"style":"ix","title":null,"orient":"bottom","offset":-117,"labelFontSize":11}},
"y":{"field":"lo","type":"quantitative","scale":{"domain":[-0.38,4.04],"range":[227,8],"nice":false,"zero":false},"axis":{"style":"iy","title":null,"orient":"left","offset":-183,"values":[0,1,2,3,4],"format":"d","labelFontSize":17}},"y2":{"field":"hi"}}},
{"data":{"name":"box"},"transform":[{"filter":"datum.p=='G'&&datum.s!='m'"}],"mark":{"type":"bar","size":12,"stroke":"black","strokeWidth":1.5,"fill":{"gradient":"linear","x1":0,"y1":0,"x2":0,"y2":1,"stops":[{"offset":0,"color":"#1e62a4"},{"offset":1,"color":"#ffffff"}]}},
"encoding":{"x":{"field":"g","type":"nominal"},"y":{"field":"q1","type":"quantitative"},"y2":{"field":"q3"}}},
{"data":{"name":"box"},"transform":[{"filter":"datum.p=='G'&&datum.s!='m'"}],"mark":{"type":"tick","color":"black","size":12,"thickness":1.5},
"encoding":{"x":{"field":"g","type":"nominal"},"y":{"field":"md","type":"quantitative"}}},
{"data":{"name":"pts"},"transform":[{"filter":"datum.p=='G'&&datum.s!='m'"}],"mark":{"type":"circle","size":40,"fill":"#e8222a","opacity":1,"stroke":"#f7a3a3","strokeWidth":1.5,"strokeOpacity":0.6},
"encoding":{"x":{"field":"g","type":"nominal"},"y":{"field":"v","type":"quantitative"}}}
]},
{"data":{"name":"box"},"transform":[{"filter":"datum.p=='G'&&datum.s!='m'"}],"mark":{"type":"point","opacity":0},
"encoding":{"x":{"field":"g","type":"nominal","scale":{"type":"point","domain":["petA","petB","petC","psaB","atpA","atpB","rbcL","rbcS","psbA","psbB","psbC","psaA","psaC","ndhD1"],"padding":0.5,"range":[183,448]},"axis":{"style":"fr","orient":"top","offset":-8,"title":"ΔII-1","titleX":423,"titleY":32,"titleFontSize":30}},
"y":{"field":"md","type":"quantitative","scale":{"domain":[-0.38,4.04],"range":[227,8],"nice":false,"zero":false},"axis":{"style":"fr","orient":"right","offset":-7,"title":null}}}}
]},
{"width":455,"height":344,
"resolve":{"scale":{"x":"independent","y":"independent"},"axis":{"x":"independent","y":"independent"}},
"layer":[
{"layer":[
{"data":{"name":"box"},"transform":[{"filter":"datum.p=='H'&&datum.s!='i'"}],"mark":{"type":"rule","color":"black","strokeWidth":1.5},
"encoding":{"x":{"field":"g","type":"nominal","scale":{"type":"point","domain":["petA","petB","petC","psaB","atpA","atpB","rbcL","rbcS","psbA","psbB","psbC","psaA","psaC","ndhD1"],"padding":0.55},"axis":{"style":"mx","title":null,"orient":"bottom","labelFontStyle":{"condition":{"test":"indexof(['petA','psaB','rbcL','psbB','psaC'],datum.value)>=0","value":"normal"},"value":"italic"}}},
"y":{"field":"lo","type":"quantitative","scale":{"domain":[-5.3,90],"nice":false,"zero":false},"axis":{"style":"my","orient":"left","title":"H","titleX":-52,"titleY":-17,"values":[0,20,40,60,80]}},"y2":{"field":"hi"}}},
{"data":{"name":"box"},"transform":[{"filter":"datum.p=='H'&&datum.s!='i'"}],"mark":{"type":"bar","size":22,"stroke":"black","strokeWidth":2,"fill":{"gradient":"linear","x1":0,"y1":0,"x2":0,"y2":1,"stops":[{"offset":0,"color":"#17247e"},{"offset":1,"color":"#ffffff"}]}},
"encoding":{"x":{"field":"g","type":"nominal"},"y":{"field":"q1","type":"quantitative"},"y2":{"field":"q3"}}},
{"data":{"name":"box"},"transform":[{"filter":"datum.p=='H'&&datum.s!='i'"}],"mark":{"type":"tick","color":"black","size":22,"thickness":2},
"encoding":{"x":{"field":"g","type":"nominal"},"y":{"field":"md","type":"quantitative"}}},
{"data":{"name":"pts"},"transform":[{"filter":"datum.p=='H'&&datum.s!='i'"}],"mark":{"type":"circle","size":80,"fill":"#e8222a","opacity":1,"stroke":"#f7a3a3","strokeWidth":2,"strokeOpacity":0.6},
"encoding":{"x":{"field":"g","type":"nominal"},"y":{"field":"v","type":"quantitative"}}}
]},
{"layer":[
{"data":{"name":"box"},"transform":[{"filter":"datum.p=='H'&&datum.s!='m'"}],"mark":{"type":"rule","color":"black","strokeWidth":1.2},
"encoding":{"x":{"field":"g","type":"nominal","scale":{"type":"point","domain":["petA","petB","petC","psaB","atpA","atpB","rbcL","rbcS","psbA","psbB","psbC","psaA","psaC","ndhD1"],"padding":0.5,"range":[25,261]},"axis":{"style":"ix","title":null,"orient":"bottom","offset":-157,"labelFontSize":10}},
"y":{"field":"lo","type":"quantitative","scale":{"domain":[-0.35,20.2],"range":[187,7],"nice":false,"zero":false},"axis":{"style":"iy","title":null,"orient":"left","offset":-25,"values":[0,5,10,15,20],"format":"d","labelFontSize":14}},"y2":{"field":"hi"}}},
{"data":{"name":"box"},"transform":[{"filter":"datum.p=='H'&&datum.s!='m'"}],"mark":{"type":"bar","size":11,"stroke":"black","strokeWidth":1.5,"fill":{"gradient":"linear","x1":0,"y1":0,"x2":0,"y2":1,"stops":[{"offset":0,"color":"#17247e"},{"offset":1,"color":"#ffffff"}]}},
"encoding":{"x":{"field":"g","type":"nominal"},"y":{"field":"q1","type":"quantitative"},"y2":{"field":"q3"}}},
{"data":{"name":"box"},"transform":[{"filter":"datum.p=='H'&&datum.s!='m'"}],"mark":{"type":"tick","color":"black","size":11,"thickness":1.5},
"encoding":{"x":{"field":"g","type":"nominal"},"y":{"field":"md","type":"quantitative"}}},
{"data":{"name":"pts"},"transform":[{"filter":"datum.p=='H'&&datum.s!='m'"}],"mark":{"type":"circle","size":30,"fill":"#e8222a","opacity":1,"stroke":"#f7a3a3","strokeWidth":1.5,"strokeOpacity":0.6},
"encoding":{"x":{"field":"g","type":"nominal"},"y":{"field":"v","type":"quantitative"}}}
]},
{"data":{"name":"box"},"transform":[{"filter":"datum.p=='H'&&datum.s!='m'"}],"mark":{"type":"point","opacity":0},
"encoding":{"x":{"field":"g","type":"nominal","scale":{"type":"point","domain":["petA","petB","petC","psaB","atpA","atpB","rbcL","rbcS","psbA","psbB","psbC","psaA","psaC","ndhD1"],"padding":0.5,"range":[25,261]},"axis":{"style":"fr","orient":"top","offset":-7,"title":"ΔII-2","titleX":430,"titleY":27,"titleFontSize":30}},
"y":{"field":"md","type":"quantitative","scale":{"domain":[-0.35,20.2],"range":[187,7],"nice":false,"zero":false},"axis":{"style":"fr","orient":"right","offset":-194,"title":null}}}}
]},
{"width":455,"height":344,
"resolve":{"scale":{"x":"independent","y":"independent"},"axis":{"x":"independent","y":"independent"}},
"layer":[
{"layer":[
{"data":{"name":"box"},"transform":[{"filter":"datum.p=='I'&&datum.s!='i'"}],"mark":{"type":"rule","color":"black","strokeWidth":1.5},
"encoding":{"x":{"field":"g","type":"nominal","scale":{"type":"point","domain":["petA","petB","petC","psaB","atpA","atpB","rbcL","rbcS","psbA","psbB","psbC","psaA","psaC","ndhD1"],"padding":0.55},"axis":{"style":"mx","title":null,"orient":"bottom","labelFontStyle":{"condition":{"test":"indexof(['petA','psaB','rbcL','psbB','psaC'],datum.value)>=0","value":"normal"},"value":"italic"}}},
"y":{"field":"lo","type":"quantitative","scale":{"domain":[-5.3,90],"nice":false,"zero":false},"axis":{"style":"my","orient":"left","title":"I","titleX":-61,"titleY":-13,"values":[0,20,40,60,80]}},"y2":{"field":"hi"}}},
{"data":{"name":"box"},"transform":[{"filter":"datum.p=='I'&&datum.s!='i'"}],"mark":{"type":"bar","size":22,"stroke":"black","strokeWidth":2,"fill":{"gradient":"linear","x1":0,"y1":0,"x2":0,"y2":1,"stops":[{"offset":0,"color":"#e4621a"},{"offset":1,"color":"#ffffff"}]}},
"encoding":{"x":{"field":"g","type":"nominal"},"y":{"field":"q1","type":"quantitative"},"y2":{"field":"q3"}}},
{"data":{"name":"box"},"transform":[{"filter":"datum.p=='I'&&datum.s!='i'"}],"mark":{"type":"tick","color":"black","size":22,"thickness":2},
"encoding":{"x":{"field":"g","type":"nominal"},"y":{"field":"md","type":"quantitative"}}},
{"data":{"name":"pts"},"transform":[{"filter":"datum.p=='I'&&datum.s!='i'"}],"mark":{"type":"circle","size":80,"fill":"#e8222a","opacity":1,"stroke":"#f7a3a3","strokeWidth":2,"strokeOpacity":0.6},
"encoding":{"x":{"field":"g","type":"nominal"},"y":{"field":"v","type":"quantitative"}}}
]},
{"layer":[
{"data":{"name":"box"},"transform":[{"filter":"datum.p=='I'&&datum.s!='m'"}],"mark":{"type":"rule","color":"black","strokeWidth":1.2},
"encoding":{"x":{"field":"g","type":"nominal","scale":{"type":"point","domain":["petA","petB","petC","psaB","atpA","atpB","rbcL","rbcS","psbA","psbB","psbC","psaA","psaC","ndhD1"],"padding":0.5,"range":[22,264]},"axis":{"style":"ix","title":null,"orient":"bottom","offset":-146,"labelFontSize":11}},
"y":{"field":"lo","type":"quantitative","scale":{"domain":[-0.65,20.1],"range":[198,10],"nice":false,"zero":false},"axis":{"style":"iy","title":null,"orient":"left","offset":-22,"values":[0,5,10,15,20],"format":"d","labelFontSize":14}},"y2":{"field":"hi"}}},
{"data":{"name":"box"},"transform":[{"filter":"datum.p=='I'&&datum.s!='m'"}],"mark":{"type":"bar","size":11,"stroke":"black","strokeWidth":1.5,"fill":{"gradient":"linear","x1":0,"y1":0,"x2":0,"y2":1,"stops":[{"offset":0,"color":"#e4621a"},{"offset":1,"color":"#ffffff"}]}},
"encoding":{"x":{"field":"g","type":"nominal"},"y":{"field":"q1","type":"quantitative"},"y2":{"field":"q3"}}},
{"data":{"name":"box"},"transform":[{"filter":"datum.p=='I'&&datum.s!='m'"}],"mark":{"type":"tick","color":"black","size":11,"thickness":1.5},
"encoding":{"x":{"field":"g","type":"nominal"},"y":{"field":"md","type":"quantitative"}}},
{"data":{"name":"pts"},"transform":[{"filter":"datum.p=='I'&&datum.s!='m'"}],"mark":{"type":"circle","size":30,"fill":"#e8222a","opacity":1,"stroke":"#f7a3a3","strokeWidth":1.5,"strokeOpacity":0.6},
"encoding":{"x":{"field":"g","type":"nominal"},"y":{"field":"v","type":"quantitative"}}}
]},
{"data":{"name":"box"},"transform":[{"filter":"datum.p=='I'&&datum.s!='m'"}],"mark":{"type":"point","opacity":0},
"encoding":{"x":{"field":"g","type":"nominal","scale":{"type":"point","domain":["petA","petB","petC","psaB","atpA","atpB","rbcL","rbcS","psbA","psbB","psbC","psaA","psaC","ndhD1"],"padding":0.5,"range":[22,264]},"axis":{"style":"fr","orient":"top","offset":-10,"title":"Δrne","titleX":427,"titleY":27,"titleFontSize":30}},
"y":{"field":"md","type":"quantitative","scale":{"domain":[-0.65,20.1],"range":[198,10],"nice":false,"zero":false},"axis":{"style":"fr","orient":"right","offset":-191,"title":null}}}}
]},
{"width":455,"height":344,
"resolve":{"scale":{"x":"independent","y":"independent"},"axis":{"x":"independent","y":"independent"}},
"layer":[
{"layer":[
{"data":{"name":"box"},"transform":[{"filter":"datum.p=='J'&&datum.s!='i'"}],"mark":{"type":"rule","color":"black","strokeWidth":1.5},
"encoding":{"x":{"field":"g","type":"nominal","scale":{"type":"point","domain":["petA","petB","petC","psaB","atpA","atpB","rbcL","rbcS","psbA","psbB","psbC","psaA","psaC","ndhD1"],"padding":0.55},"axis":{"style":"mx","title":null,"orient":"bottom","labelFontStyle":{"condition":{"test":"indexof(['petA','psaB','rbcL','psbB','psaC'],datum.value)>=0","value":"normal"},"value":"italic"}}},
"y":{"field":"lo","type":"quantitative","scale":{"domain":[-5.3,90],"nice":false,"zero":false},"axis":{"style":"my","orient":"left","title":"J","titleX":-52,"titleY":-13,"values":[0,20,40,60,80]}},"y2":{"field":"hi"}}},
{"data":{"name":"box"},"transform":[{"filter":"datum.p=='J'&&datum.s!='i'"}],"mark":{"type":"bar","size":22,"stroke":"black","strokeWidth":2,"fill":{"gradient":"linear","x1":0,"y1":0,"x2":0,"y2":1,"stops":[{"offset":0,"color":"#1f9b3c"},{"offset":1,"color":"#ffffff"}]}},
"encoding":{"x":{"field":"g","type":"nominal"},"y":{"field":"q1","type":"quantitative"},"y2":{"field":"q3"}}},
{"data":{"name":"box"},"transform":[{"filter":"datum.p=='J'&&datum.s!='i'"}],"mark":{"type":"tick","color":"black","size":22,"thickness":2},
"encoding":{"x":{"field":"g","type":"nominal"},"y":{"field":"md","type":"quantitative"}}},
{"data":{"name":"pts"},"transform":[{"filter":"datum.p=='J'&&datum.s!='i'"}],"mark":{"type":"circle","size":80,"fill":"#e8222a","opacity":1,"stroke":"#f7a3a3","strokeWidth":2,"strokeOpacity":0.6},
"encoding":{"x":{"field":"g","type":"nominal"},"y":{"field":"v","type":"quantitative"}}}
]},
{"layer":[
{"data":{"name":"box"},"transform":[{"filter":"datum.p=='J'&&datum.s!='m'"}],"mark":{"type":"rule","color":"black","strokeWidth":1.2},
"encoding":{"x":{"field":"g","type":"nominal","scale":{"type":"point","domain":["petA","petB","petC","psaB","atpA","atpB","rbcL","rbcS","psbA","psbB","psbC","psaA","psaC","ndhD1"],"padding":0.5,"range":[177,443]},"axis":{"style":"ix","title":null,"orient":"bottom","offset":-129,"labelFontSize":12}},
"y":{"field":"lo","type":"quantitative","scale":{"domain":[-0.42,5.03],"range":[215,10],"nice":false,"zero":false},"axis":{"style":"iy","title":null,"orient":"left","offset":-177,"values":[0,2,4],"format":"d","labelFontSize":19}},"y2":{"field":"hi"}}},
{"data":{"name":"box"},"transform":[{"filter":"datum.p=='J'&&datum.s!='m'"}],"mark":{"type":"bar","size":12,"stroke":"black","strokeWidth":1.5,"fill":{"gradient":"linear","x1":0,"y1":0,"x2":0,"y2":1,"stops":[{"offset":0,"color":"#1f9b3c"},{"offset":1,"color":"#ffffff"}]}},
"encoding":{"x":{"field":"g","type":"nominal"},"y":{"field":"q1","type":"quantitative"},"y2":{"field":"q3"}}},
{"data":{"name":"box"},"transform":[{"filter":"datum.p=='J'&&datum.s!='m'"}],"mark":{"type":"tick","color":"black","size":12,"thickness":1.5},
"encoding":{"x":{"field":"g","type":"nominal"},"y":{"field":"md","type":"quantitative"}}},
{"data":{"name":"pts"},"transform":[{"filter":"datum.p=='J'&&datum.s!='m'"}],"mark":{"type":"circle","size":40,"fill":"#e8222a","opacity":1,"stroke":"#f7a3a3","strokeWidth":1.5,"strokeOpacity":0.6},
"encoding":{"x":{"field":"g","type":"nominal"},"y":{"field":"v","type":"quantitative"}}}
]},
{"data":{"name":"box"},"transform":[{"filter":"datum.p=='J'&&datum.s!='m'"}],"mark":{"type":"point","opacity":0},
"encoding":{"x":{"field":"g","type":"nominal","scale":{"type":"point","domain":["petA","petB","petC","psaB","atpA","atpB","rbcL","rbcS","psbA","psbB","psbC","psaA","psaC","ndhD1"],"padding":0.5,"range":[177,443]},"axis":{"style":"fr","orient":"top","offset":-10,"title":"Δpnp","titleX":368,"titleY":29,"titleFontSize":31}},
"y":{"field":"md","type":"quantitative","scale":{"domain":[-0.42,5.03],"range":[215,10],"nice":false,"zero":false},"axis":{"style":"fr","orient":"right","offset":-12,"title":null}}}}
]}
]
}
